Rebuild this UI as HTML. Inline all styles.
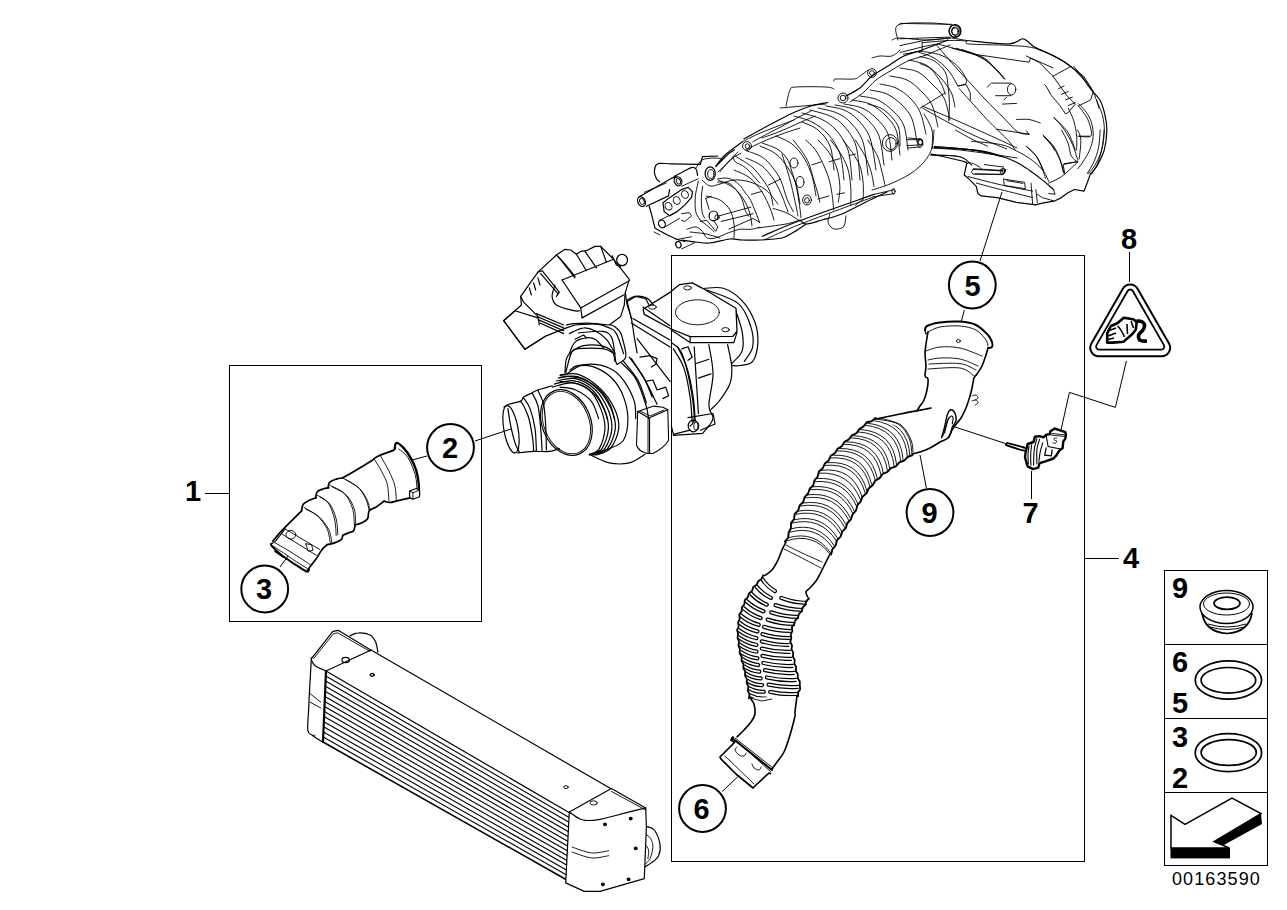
<!DOCTYPE html>
<html><head><meta charset="utf-8">
<style>
html,body{margin:0;padding:0;background:#fff;width:1287px;height:910px;overflow:hidden}
svg{display:block}
text{font-family:"Liberation Sans",sans-serif;font-weight:bold;fill:#000}
.f{fill:none;stroke:#000;stroke-width:1.05;shape-rendering:crispEdges}
.t{fill:none;stroke:#000;stroke-width:1}
.d{fill:none;stroke:#000;stroke-width:1.2;stroke-linejoin:round;stroke-linecap:round}
.w{fill:#fff;stroke:#000;stroke-width:1.3;stroke-linejoin:round}
.h{fill:none;stroke:#000;stroke-width:0.9;stroke-linecap:round}
.c{fill:#fff;stroke:#000;stroke-width:2}
.r{fill:none;stroke:#000;stroke-width:1.7}
</style></head>
<body>
<svg width="1287" height="910" viewBox="0 0 1287 910">
<rect width="1287" height="910" fill="#fff"/>

<!-- PARTS -->
<g id="manifold">
<path class="d" d="M966.7,40.5 C973.8,41.1 1000,44.2 1009.4,43.9 C1018.8,43.6 1018.8,38.2 1023.1,38.8 C1027.4,39.4 1029.9,44.5 1035,47.4 C1040.2,50.2 1048.1,52.9 1053.8,55.9 C1059.5,58.9 1064.7,61.9 1069.2,65.3 C1073.8,68.7 1077.5,72.3 1081.2,76.4 C1084.9,80.5 1088.3,86.1 1091.5,90.1 C1094.6,94.1 1097.7,96.1 1100,100.3 C1102.3,104.6 1104,110.6 1105.1,115.7 C1106.3,120.9 1107,125.4 1106.8,131.1 C1106.7,136.8 1105.7,144.5 1104.3,149.9 C1102.8,155.3 1100.4,159.6 1098.3,163.6 C1096.2,167.6 1092.6,172.1 1091.5,173.8"/>
<path class="h" d="M1078.6,103.8 C1079.9,105.2 1084.2,109.2 1086.3,112.3 C1088.5,115.4 1090.3,118.6 1091.5,122.6 C1092.6,126.6 1093.4,131.7 1093.2,136.2 C1092.9,140.8 1091.5,145.6 1089.7,149.9 C1088,154.2 1084.9,158.7 1082.9,161.9 C1080.9,165 1078.6,167.6 1077.8,168.7"/>
<path class="h" d="M1096.6,100.3 C1097.6,102.9 1101.3,110.6 1102.6,115.7 C1103.8,120.9 1104.4,125.4 1104.3,131.1 C1104.1,136.8 1103.3,144.2 1101.7,149.9 C1100.1,155.6 1097.2,161.3 1094.9,165.3 C1092.6,169.3 1089.2,172.4 1088,173.8"/>
<path class="h" d="M1053.8,117.4 C1055.6,119.4 1061,124.8 1064.1,129.4 C1067.2,134 1070.4,139.7 1072.6,144.8 C1074.9,149.9 1076.9,157.6 1077.8,160.2"/>
<path class="h" d="M1043.6,136.2 C1045.3,138.2 1051,143.9 1053.8,148.2 C1056.7,152.5 1059,157.6 1060.7,161.9 C1062.4,166.2 1063.5,171.9 1064.1,173.8"/>
<path class="h" d="M1026.5,146.5 C1028.2,148.2 1033.9,152.8 1036.8,156.8 C1039.6,160.7 1042.5,168.1 1043.6,170.4"/>
<path class="h" d="M1077.8,136.2 L1089.7,136.2"/>
<path class="h" d="M1064.1,163.6 L1077.8,161.9"/>
<path class="h" d="M934.2,146.5 C940.5,147.1 960.4,148.2 971.8,149.9 C983.2,151.6 997.4,155.6 1002.6,156.8"/>
<path class="h" d="M930.8,155 C935.6,155.3 953,155 959.8,156.8 C966.7,158.5 969.8,163.9 971.8,165.3"/>
<path class="h" d="M922.8,42.6 C927.5,42.2 943.5,40.7 950.8,40.5 C958,40.3 963.1,40.6 966.2,41.2 C969.2,41.8 962,43.3 969,44 C975.9,44.7 997.2,44.7 1008.1,45.4 C1019.1,46.1 1026.1,45.9 1034.7,48.2 C1043.3,50.5 1054,56.3 1059.9,59.4 C1065.7,62.4 1068,65.2 1069.7,66.4"/>
<path class="h" d="M938.2,44 L975.9,54.5 L1029.1,62.2 L1030.5,58 L1052.9,67.8"/>
<path class="h" d="M952.2,48.2 C956.1,49.3 969.7,52.6 975.9,55.2 C982.2,57.7 986.2,60.8 989.9,63.6 C993.7,66.4 996,69.4 998.3,72 C1000.7,74.5 1003,77.8 1003.9,79"/>
<path class="h" d="M956.4,48.2 C960.3,49.6 974.1,53.5 980.1,56.6 C986.2,59.6 989,63.1 992.7,66.4 C996.5,69.6 1000.9,74.5 1002.5,76.2"/>
<path class="h" d="M962,49.6 C965.7,51 978.7,54.7 984.3,58 C989.9,61.2 992,65.7 995.5,69.2 C999,72.7 1003.7,77.3 1005.3,79"/>
<path class="h" d="M920,51 C923.5,51.7 934.9,52.8 941,55.2 C947,57.5 952.4,61.5 956.4,65 C960.3,68.5 963.1,73.1 964.8,76.2 C966.4,79.2 967.1,81.5 966.2,83.1 C965.2,84.8 960.3,85.5 959.2,85.9"/>
<path class="h" d="M920,56.6 C922.3,57.3 929.8,58.2 934,60.8 C938.2,63.3 942.8,67.8 945.2,72 C947.5,76.2 947.3,80.8 948,85.9 C948.7,91.1 949.3,96.9 949.4,102.7 C949.5,108.6 948.8,117.9 948.7,120.9"/>
<path class="h" d="M920,63.6 C921.9,64.5 927.7,65.9 931.2,69.2 C934.7,72.4 938.6,79 941,83.1 C943.3,87.3 944.5,92.5 945.2,94.3"/>
<path class="h" d="M957.8,85.9 L966.2,84.5 L970.3,92.9 L970.3,99.9"/>
<path class="h" d="M920,108.3 L945.2,92.9"/>
<path class="h" d="M922.8,108.3 C927,110.7 939.1,117.6 948,122.3 C956.8,127 966.2,131.9 975.9,136.3 C985.7,140.7 1001.6,146.8 1006.7,148.9"/>
<path class="h" d="M936.8,45.4 C939.6,48.6 948,58.7 953.6,65 C959.2,71.3 965,77.3 970.3,83.1 C975.7,89 980.1,94.1 985.7,99.9 C991.3,105.8 998.6,112.8 1003.9,118.1 C1009.3,123.5 1013.7,129.4 1017.9,132.1 C1022.1,134.8 1027.2,133.8 1029.1,134.2"/>
<path class="h" d="M959.2,88.7 C961.5,91.3 968.5,99 973.1,104.1 C977.8,109.3 982.9,115.1 987.1,119.5 C991.3,123.9 994.6,127 998.3,130.7 C1002.1,134.4 1006.7,138.7 1009.5,141.9 C1012.3,145.1 1014.2,148.6 1015.1,150"/>
<path class="h" d="M987.1,87.3 L991.3,83.1 L1010.9,83.1"/>
<path class="h" d="M995.5,95.7 L1010.9,95.7"/>
<ellipse class="h" cx="1011.6" cy="89.4" rx="4.2" ry="5.6"/>
<path class="h" d="M1002.5,104.1 L1016.5,103.4"/>
<path class="h" d="M1003.9,99.9 L1006.7,97.1"/>
<path class="h" d="M996.9,129.3 L1029.1,134.2 L1026.3,130.7"/>
<path class="h" d="M1016.5,119.5 C1018.6,119.5 1025.1,118.9 1029.1,119.5 C1033.1,120.1 1038.4,122.4 1040.3,123"/>
<path class="h" d="M1026.3,55.9 L1038.9,62.2 L1052.9,76.2 L1059.9,85.9 L1066.9,95.7 L1075.2,104.1 L1068.3,112.5 L1065.5,113.9 L1059.9,105.5 L1051.5,95.7 L1045.9,85.9 L1044.5,84.5"/>
<path class="h" d="M1058.5,88.7 L1064.1,85.9"/>
<path class="h" d="M1061.3,94.3 L1068.3,91.5"/>
<path class="h" d="M1065.5,99.9 L1072.4,97.1"/>
<path class="h" d="M1068.3,105.5 L1075.2,102.7"/>
<path class="h" d="M1052.9,76.2 L1071,66.4 L1083.6,76.2 L1093.4,91.5 L1090.6,99.9 L1079.4,105.5"/>
<path class="h" d="M1078,105.5 C1079.4,107.4 1084.3,113 1086.4,116.7 C1088.5,120.4 1089.9,124.6 1090.6,127.9 C1091.3,131.2 1092.5,134.9 1090.6,136.3 C1088.8,137.7 1081.3,136.3 1079.4,136.3"/>
<path class="h" d="M1073.8,66.4 C1076.2,69.2 1084.3,78.3 1087.8,83.1 C1091.3,88 1093,91.5 1094.8,95.7 C1096.7,99.9 1098.3,106.2 1099,108.3"/>
<path class="h" d="M1054.3,118.1 C1056.4,120.2 1063.8,126.7 1066.9,130.7 C1069.9,134.7 1071,138.7 1072.4,141.9 C1073.8,145.1 1074.8,148.6 1075.2,150"/>
<path class="h" d="M1043.1,134.9 C1044.5,136.5 1049.6,142.2 1051.5,144.7 C1053.3,147.2 1053.8,149.1 1054.3,150"/>
<path class="h" d="M1068.3,108.3 C1069.2,110.4 1072.4,116.2 1073.8,120.9 C1075.2,125.6 1076.2,131.4 1076.6,136.3 C1077.1,141.1 1076.6,147.7 1076.6,150"/>
<ellipse class="h" cx="954.7" cy="31.1" rx="5.5" ry="6"/>
<ellipse class="h" cx="955" cy="31.6" rx="3.1" ry="3.8"/>
<path class="h" d="M900,23.4 L951.3,24.3"/>
<path class="h" d="M900,38.8 L949.6,37.1"/>
<path class="h" d="M900,45.6 L923.9,40.5 L951.3,37.9 L966.7,40.5"/>
<path class="h" d="M900,52.5 L923.9,46.5 L937.6,43.9"/>
<path class="h" d="M922.2,42.2 L922.2,50.8 L903.4,54.2"/>
<path class="h" d="M906.8,139.7 L922.2,139.7 L923.1,144.8 L906.8,145.6"/>
<ellipse class="h" cx="920.5" cy="142.2" rx="2.1" ry="2.7"/>
<path class="h" d="M934.2,146.5 C940.5,147.1 960.4,148.2 971.8,149.9 C983.2,151.6 997.4,155.6 1002.6,156.8"/>
<path class="h" d="M930.8,155 C935.6,155.3 953,155 959.8,156.8 C966.7,158.5 969.8,163.9 971.8,165.3"/>
<path class="h" d="M973.5,168.7 L1002.6,170.4"/>
<path class="h" d="M975.2,173.8 L1002.6,174.7"/>
<ellipse class="h" cx="1002.6" cy="171.3" rx="2.4" ry="2.7"/>
<path class="h" d="M786,106 C786.7,103.3 788.3,93.2 790,90 C791.7,86.8 790,87.5 796,87 C802,86.5 819.7,86.7 826,87 C832.3,87.3 832.7,88.7 834,89"/>
<path class="h" d="M780,108 L826,104"/>
<path class="d" d="M744,139 C746.7,137.5 754.5,133 760,130 C765.5,127 771.2,124 777,121 C782.8,118 789.3,114.5 795,112 C800.7,109.5 805.5,107.6 811,106 C816.5,104.4 825.2,103.1 828,102.5"/>
<path class="h" d="M752.8,141.8 C755.2,140.5 762.1,136.6 767,134 C771.9,131.4 776.9,129.1 781.9,126.4 C786.9,123.7 792.1,120.6 797,118 C801.9,115.4 808.7,112.2 811,111"/>
<path class="h" d="M762,138 C765.2,136.8 774.7,133.6 781,131 C787.3,128.4 794.3,125 800,122.5 C805.7,120 812.5,117.1 815,116"/>
<path class="h" d="M834,81 C834.3,80.7 832.7,79.3 836,79 C839.3,78.7 850,79.5 854,79 C858,78.5 857.7,77.5 860,76 C862.3,74.5 866.7,71 868,70"/>
<path class="d" d="M846,96 C848.3,94.7 855.7,91.3 860,88 C864.3,84.7 867.3,79.7 872,76 C876.7,72.3 882.7,69.3 888,66 C893.3,62.7 898.3,58.7 904,56 C909.7,53.3 914.7,52.7 922,50 C929.3,47.3 943.7,41.7 948,40"/>
<path class="h" d="M850,102 C852.3,100.3 859.7,95.7 864,92 C868.3,88.3 871.3,83.7 876,80 C880.7,76.3 886.7,73.2 892,70 C897.3,66.8 902.3,63.5 908,61 C913.7,58.5 919,57.7 926,55 C933,52.3 946,46.7 950,45"/>
<path class="h" d="M872,58 C873.3,57.7 876.7,56.3 880,56 C883.3,55.7 888.7,57 892,56 C895.3,55 898.7,51 900,50"/>
<path class="h" d="M898,40 C898,37.5 892.7,27.8 898,25 C903.3,22.2 921,23 930,23 C939,23 948.3,24.7 952,25"/>
<path class="h" d="M892,40 C893.3,39.7 894.3,38 900,38 C905.7,38 917.7,40 926,40 C934.3,40 946,38.3 950,38"/>
<ellipse class="h" cx="843" cy="98" rx="5" ry="5"/>
<ellipse class="h" cx="843" cy="98" rx="2.8" ry="2.8"/>
<ellipse class="h" cx="872" cy="73" rx="4.4" ry="4.4"/>
<ellipse class="h" cx="872" cy="73" rx="2.4" ry="2.4"/>
<ellipse class="d" cx="955" cy="31" rx="6" ry="6.4"/>
<ellipse class="h" cx="955" cy="31" rx="3.6" ry="4"/>
<path class="h" d="M794,116 C797,117 806.3,119 812,122 C817.7,125 823.3,128.7 828,134 C832.7,139.3 837.3,146.3 840,154 C842.7,161.7 843.3,175.7 844,180"/>
<path class="h" d="M810,110 C813.3,111 824.3,113.3 830,116 C835.7,118.7 839.7,121 844,126 C848.3,131 853.3,137 856,146 C858.7,155 859.3,174.3 860,180"/>
<path class="h" d="M826,106 C829,106.7 838.7,107.7 844,110 C849.3,112.3 853.7,115.3 858,120 C862.3,124.7 867,129.7 870,138 C873,146.3 875,164.7 876,170"/>
<path class="h" d="M844,104 C847,104.7 856.7,105.7 862,108 C867.3,110.3 871.7,113.7 876,118 C880.3,122.3 885.3,127 888,134 C890.7,141 891.3,155.7 892,160"/>
<path class="h" d="M860,96 C863,96.7 872.3,97.3 878,100 C883.7,102.7 889.7,107.7 894,112 C898.3,116.3 901.7,119.7 904,126 C906.3,132.3 907.3,146 908,150"/>
<path class="h" d="M880,84 C882.7,84.7 891,85.7 896,88 C901,90.3 906,94 910,98 C914,102 917.3,106 920,112 C922.7,118 925,130.3 926,134"/>
<path class="h" d="M900,68 C903,68.7 912.7,69.3 918,72 C923.3,74.7 927.7,79.7 932,84 C936.3,88.3 941,92 944,98 C947,104 949,116.3 950,120"/>
<path class="h" d="M918,52 C920.7,53 929,55 934,58 C939,61 944,65.3 948,70 C952,74.7 956.3,83.3 958,86"/>
<path class="h" d="M802,122 C804.7,123.3 813.3,126 818,130 C822.7,134 827.3,139.3 830,146 C832.7,152.7 833.3,166 834,170"/>
<path class="h" d="M868,104 C870.7,105 879,106.3 884,110 C889,113.7 895.3,120 898,126 C900.7,132 899.7,142.7 900,146"/>
<path class="h" d="M802,113 C805.2,114 815.3,116.2 821,119 C826.7,121.8 831.5,124.8 836,130 C840.5,135.2 845.3,141.7 848,150 C850.7,158.3 851.3,175 852,180"/>
<path class="h" d="M818,108 C821.2,108.8 831.5,110.5 837,113 C842.5,115.5 846.7,118.2 851,123 C855.3,127.8 860.2,133.3 863,142 C865.8,150.7 867.2,169.5 868,175"/>
<path class="h" d="M835,105 C838,105.7 847.7,106.7 853,109 C858.3,111.3 862.7,114.5 867,119 C871.3,123.5 876.2,128.3 879,136 C881.8,143.7 883.2,160.2 884,165"/>
<path class="h" d="M852,100 C855,100.7 864.5,101.5 870,104 C875.5,106.5 880.7,110.7 885,115 C889.3,119.3 893.5,123.3 896,130 C898.5,136.7 899.3,150.8 900,155"/>
<path class="h" d="M870,90 C872.8,90.7 881.7,91.5 887,94 C892.3,96.5 897.8,100.8 902,105 C906.2,109.2 909.5,112.8 912,119 C914.5,125.2 916.2,138.2 917,142"/>
<path class="h" d="M890,76 C892.8,76.7 901.8,77.5 907,80 C912.2,82.5 916.8,86.8 921,91 C925.2,95.2 929.2,99 932,105 C934.8,111 937,123.3 938,127"/>
<path class="h" d="M909,60 C911.8,60.8 920.8,62.2 926,65 C931.2,67.8 935.8,72.5 940,77 C944.2,81.5 948.5,87 951,92 C953.5,97 954.3,104.5 955,107"/>
<ellipse class="h" cx="747" cy="146" rx="4.4" ry="4.4"/>
<ellipse class="h" cx="747.4" cy="146.2" rx="2.2" ry="2.4"/>
<ellipse class="h" cx="890" cy="143" rx="7.6" ry="8.4"/>
<ellipse class="h" cx="891" cy="143.6" rx="5.2" ry="6"/>
<path class="h" d="M908,138 L920,139"/>
<path class="h" d="M908,148 L920,147"/>
<ellipse class="h" cx="920" cy="143" rx="2.4" ry="4.4"/>
<path class="h" d="M872,190 C875,189 883.7,186.7 890,184 C896.3,181.3 904.3,177.7 910,174 C915.7,170.3 920.3,166.3 924,162 C927.7,157.7 930.3,153.3 932,148 C933.7,142.7 933.7,133 934,130"/>
<path class="h" d="M924,114 C925.3,116.7 930.7,124.3 932,130 C933.3,135.7 932,145 932,148"/>
<path class="h" d="M922,106 C928.3,108.7 947,116.3 960,122 C973,127.7 990.5,135.7 1000,140 C1009.5,144.3 1014.2,146.7 1017,148"/>
<path class="h" d="M932,148 C936.7,148.3 950.3,149 960,150 C969.7,151 980.5,152.7 990,154 C999.5,155.3 1012.5,157.3 1017,158"/>
<ellipse class="d" cx="641.5" cy="201.6" rx="3.7" ry="5.1" transform="rotate(-25 641.5 201.6)"/>
<ellipse class="h" cx="641.9" cy="201.4" rx="2.2" ry="3.1" transform="rotate(-25 641.9 201.4)"/>
<path class="d" d="M639.3,196.7 L671.2,178.4 L676.2,176.6"/>
<path class="d" d="M646.5,206.3 L668.5,195.9 L669.6,189.6"/>
<path class="h" d="M644.3,192.3 L666.3,183"/>
<ellipse class="d" cx="678" cy="181.3" rx="3.7" ry="4.6" transform="rotate(-25 678 181.3)"/>
<ellipse class="h" cx="678.4" cy="181.3" rx="2" ry="2.9" transform="rotate(-25 678.4 181.3)"/>
<path class="d" d="M674,176.4 C675.4,175.6 679.8,173.4 682.7,172 C685.7,170.5 689.3,168.1 691.5,167.6 C693.7,167.1 694.9,167.6 695.9,168.9 C696.9,170.2 697.3,174.2 697.6,175.3"/>
<path class="h" d="M681.6,186.3 L698.1,178.8"/>
<path class="d" d="M659.7,181.9 C659.1,181.3 657.3,180.2 656.4,178.6 C655.5,176.9 654.5,174.2 654.4,172 C654.3,169.8 654.9,166.8 655.8,165.4 C656.7,164 657,163.7 659.7,163.4 C662.3,163.2 665,163.7 671.8,163.8 C678.5,164 695.6,164.2 700.3,164.3"/>
<path class="d" d="M700.3,164.3 L702.5,156.6 L717.9,156"/>
<ellipse class="d" cx="710.2" cy="173.6" rx="5.1" ry="6.8"/>
<ellipse class="h" cx="710.8" cy="174" rx="3.1" ry="4.4"/>
<path class="d" d="M663,202.7 L668.5,198.4 L681.6,189.6 L688.2,187.4 L692.6,191.8 L691.5,197.3 L684.9,204.9 L677.3,211.5 L669.6,215.9 L664.1,211.5 L663,202.7"/>
<ellipse class="h" cx="684.9" cy="194.5" rx="3.3" ry="4" transform="rotate(-30 684.9 194.5)"/>
<ellipse class="h" cx="676.7" cy="200.5" rx="3.3" ry="4" transform="rotate(-30 676.7 200.5)"/>
<ellipse class="h" cx="668.5" cy="206.3" rx="3.3" ry="4" transform="rotate(-30 668.5 206.3)"/>
<ellipse class="d" cx="661.9" cy="223.8" rx="3.3" ry="4" transform="rotate(-25 661.9 223.8)"/>
<path class="h" d="M659.7,220.3 L677.3,211.5"/>
<path class="h" d="M664.1,227.5 L679.5,218.4"/>
<path class="d" d="M649.2,206.3 C649.7,207.9 651.1,212.7 652,215.9 C652.8,219.2 653.6,223.6 654.4,225.8 C655.2,228.1 653.3,227.1 656.9,229.3 C660.5,231.5 671.5,237 676.2,239 C680.8,241 683.5,241 684.9,241.4"/>
<ellipse class="d" cx="678.4" cy="244.7" rx="2.6" ry="3.3" transform="rotate(-20 678.4 244.7)"/>
<path class="h" d="M676.2,239.6 L691.5,236.8"/>
<path class="h" d="M681.6,248.9 L694.3,242.9"/>
<path class="h" d="M698.4,181 C697.9,183.5 695.8,191.1 695.4,196.2 C694.9,201.2 694.9,207.5 695.7,211.5 C696.5,215.6 699.6,218.9 700.3,220.3"/>
<path class="h" d="M702.7,186.3 C702.5,188.1 701.6,193 701.4,197.3 C701.3,201.5 701.4,208.1 702,211.5 C702.5,215 704.3,217 704.7,218.1"/>
<path class="d" d="M715.7,166.5 L728.9,153.3 L734.4,150"/>
<path class="h" d="M717.9,172 L734.4,156.6 L741,153.3"/>
<path class="h" d="M717.9,178.8 C719.7,178.7 725.4,177.4 728.9,178.4 C732.4,179.3 736,181.8 738.8,184.3 C741.5,186.7 743.4,190.3 745.4,193.1 C747.4,195.8 748.5,195.9 750.9,200.8 C753.3,205.7 758.2,218.9 759.7,222.5"/>
<path class="h" d="M717.9,182.1 C719.7,182.3 725.6,181.5 728.9,183.2 C732.2,184.8 735.5,189.2 737.7,192 C739.9,194.7 740.8,196.6 742.1,199.7 C743.4,202.8 744.3,207.9 745.4,210.7 C746.5,213.4 748.1,215.2 748.7,216.2"/>
<path class="h" d="M733.3,156.6 C733.7,157.5 733.5,160.3 735.5,162.1 C737.5,163.9 741.4,164.1 745.4,167.6 C749.4,171.1 757.3,180.4 759.7,183"/>
<path class="h" d="M719,215.9 L750.9,207.1"/>
<path class="h" d="M721.2,221.4 L753.1,213.7"/>
<path class="h" d="M728.9,229.1 L753.1,218.4 L759.7,222.5"/>
<ellipse class="d" cx="713.5" cy="215.9" rx="4.4" ry="4.9"/>
<ellipse class="h" cx="717" cy="217.3" rx="2.2" ry="2.4"/>
<path class="h" d="M700.3,221.4 L706.9,220.3 L711.3,225.8 L715.7,231.3 L717.9,226.9 L713.5,220.3"/>
<path class="h" d="M687.1,229.3 C688.6,228.9 693.4,226.6 695.9,226.9 C698.5,227.3 700.7,229.7 702.5,231.5 C704.4,233.4 704.7,236.8 706.9,237.9 C709.1,239 712.1,238.8 715.7,237.9 C719.4,237 724.9,234.1 728.9,232.6 C732.9,231.2 736.2,229.9 739.9,229.3 C743.6,228.8 747.5,229.7 750.9,229.3 C754.2,229 758.5,227.5 760,227.1"/>
<path class="h" d="M681.6,213.7 L689.3,212.6 L691.5,215.9 L684.9,221.4 L681.6,220.3"/>
<path class="h" d="M705.8,198.4 L711.3,196.2"/>
<path class="h" d="M705.8,198.4 L709.1,209.3"/>
<path class="d" d="M682,240 C684.3,240.3 691.3,241.5 696,242 C700.7,242.5 704.3,243.5 710,243 C715.7,242.5 724.7,239.5 730,239 C735.3,238.5 737,239.8 742,240 C747,240.2 753.3,240.3 760,240 C766.7,239.7 776.3,239.3 782,238 C787.7,236.7 790,234.3 794,232 C798,229.7 804,225.3 806,224"/>
<path class="h" d="M690,232 C692.7,232.3 701,233 706,234 C711,235 717.7,237.3 720,238"/>
<path class="h" d="M702,180 C703.3,181 707,185.3 710,186 C713,186.7 716,185 720,184 C724,183 729,180.3 734,180 C739,179.7 744.7,180.3 750,182 C755.3,183.7 761.3,186.3 766,190 C770.7,193.7 776,201.7 778,204"/>
<path class="h" d="M718,180 C720.7,181.3 729.7,184.7 734,188 C738.3,191.3 741.3,195.7 744,200 C746.7,204.3 748.7,209.7 750,214 C751.3,218.3 751.7,224 752,226"/>
<path class="h" d="M734,170 C736.7,171.3 745.3,174.3 750,178 C754.7,181.7 758.7,187 762,192 C765.3,197 768,203.3 770,208 C772,212.7 773.3,218 774,220"/>
<path class="h" d="M746,158 C748.7,159.3 757.3,162.3 762,166 C766.7,169.7 770.7,175 774,180 C777.3,185 779.7,190.7 782,196 C784.3,201.3 787,209.3 788,212"/>
<path class="h" d="M760,146 C762.7,147.3 771.3,150.3 776,154 C780.7,157.7 784.7,163 788,168 C791.3,173 794,178 796,184 C798,190 799.3,200.7 800,204"/>
<path class="h" d="M776,136 C778.7,137.3 787.3,140.3 792,144 C796.7,147.7 800.7,152.7 804,158 C807.3,163.3 810,169.7 812,176 C814,182.3 815.3,192.7 816,196"/>
<path class="h" d="M706,196 C708.3,196.7 716,197.7 720,200 C724,202.3 727.7,206 730,210 C732.3,214 733.3,219.3 734,224 C734.7,228.7 734,235.7 734,238"/>
<ellipse class="h" cx="794" cy="163" rx="4" ry="5"/>
<ellipse class="h" cx="800" cy="182" rx="4" ry="5.6"/>
<ellipse class="h" cx="807" cy="200" rx="4.4" ry="5"/>
<ellipse class="h" cx="807" cy="200.4" rx="2.4" ry="2.8"/>
<path class="h" d="M782,154 C783.3,158.3 787.7,171.3 790,180 C792.3,188.7 794.7,200 796,206 C797.3,212 797.7,214.3 798,216"/>
<path class="h" d="M700,220 C701.7,221.3 707.7,226 710,228 C712.3,230 713.3,231.3 714,232"/>
<path class="h" d="M758,228 C762.7,227.3 779,225.3 786,224 C793,222.7 797.7,220.7 800,220"/>
<path class="d" d="M800,220 C801,220.7 802.3,224 806,224 C809.7,224 816,221.7 822,220 C828,218.3 834.7,217 842,214 C849.3,211 858.5,205.7 866,202 C873.5,198.3 883.5,193.7 887,192"/>
<path class="h" d="M830,214 C829.7,215.3 827.7,219.7 828,222 C828.3,224.3 830.3,226.8 832,228 C833.7,229.2 836,229.3 838,229 C840,228.7 842.7,228.2 844,226 C845.3,223.8 845.7,217.7 846,216"/>
<path class="d" d="M716,166 C717.3,164.3 721,159 724,156 C727,153 731,150.3 734,148 C737,145.7 740.7,143 742,142"/>
<path class="h" d="M720,172 C721.3,170.3 725,165.3 728,162 C731,158.7 736.3,153.7 738,152"/>
<path class="h" d="M742,142 C744.7,140.7 752,136.7 758,134 C764,131.3 772,128.3 778,126 C784,123.7 791.3,121 794,120"/>
<path class="h" d="M746,150 C748.7,148.7 756,144.7 762,142 C768,139.3 775.7,136.3 782,134 C788.3,131.7 797,129 800,128"/>
<path class="h" d="M696,168 C697,166.7 699,161.7 702,160 C705,158.3 710.7,158.2 714,158 C717.3,157.8 720.7,158.8 722,159"/>
<path class="h" d="M654,232 L660,235"/>
<path class="d" d="M934.5,147.7 C938.8,147.9 952.4,148.4 960.2,149 C968,149.5 974.4,149.8 981.1,150.9 C987.8,152 994.5,153.9 1000.4,155.7 C1006.3,157.6 1011.7,159.8 1016.5,162.2 C1021.3,164.6 1025.1,167.3 1029.4,170.2 C1033.7,173.2 1038.2,176.6 1042.2,179.9 C1046.3,183.1 1051.6,187.9 1053.5,189.5"/>
<path class="d" d="M931.3,154.1 C936.6,155.3 957.5,159.8 963.4,161.4 C969.3,163 966.1,163.4 966.6,163.8"/>
<path class="h" d="M971.5,141.3 C976.3,141.8 992.9,142.9 1000.4,144.5 C1007.9,146.1 1011.1,148.2 1016.5,150.9 C1021.9,153.6 1028,157.1 1032.6,160.6 C1037.2,164 1041.2,168.3 1043.9,171.8 C1046.5,175.3 1047.9,179.9 1048.7,181.5"/>
<path class="h" d="M955.4,130 C958.3,131.6 967.7,137 973.1,139.7 C978.4,142.3 985.1,145 987.6,146.1"/>
<path class="d" d="M966.6,163.8 L964.2,175 L968.3,178.3 L976.3,186.3 L977.9,193.5 L981.1,195.9 L997.2,197.6 L1016.5,202.4 L1035.8,204.8 L1042.2,203.2 L1055.1,200.8 L1061.5,197.6 L1068,192.7 L1074.4,189.5 L1084.1,191.1 L1088.9,178.3 L1090.5,173.4"/>
<path class="h" d="M966.6,163.8 C967.5,163.6 969.3,162.4 971.5,163 C973.6,163.5 977.9,165.9 979.5,167 C981.1,168.1 980.9,169 981.1,169.4"/>
<path class="h" d="M973.1,169.4 L1003.6,171 L1006.1,169.4 L1003.6,174.2 L973.1,174.2 L971.5,171.8 L973.1,169.4"/>
<path class="h" d="M984.3,164.6 L1003.6,167"/>
<path class="h" d="M1003.6,179.1 L1024.6,182.3 L1025.4,188.7 L1004.4,185.5 L1003.6,179.1"/>
<path class="h" d="M1006.9,180.7 L1022.9,183.4"/>
<path class="h" d="M968.3,176.6 C973.6,178 989.7,182.3 1000.4,184.7 C1011.1,187.1 1027.2,190.1 1032.6,191.1"/>
<path class="h" d="M976.3,183.1 C980.3,184.2 991,187.1 1000.4,189.5 C1009.8,191.9 1027.2,196.2 1032.6,197.6"/>
<path class="h" d="M1031,183.1 L1032.6,204"/>
<path class="h" d="M1035.8,189.5 L1037.4,202.4"/>
<path class="h" d="M1053.5,189.5 L1055.1,194.3 L1048.7,193.5"/>
<path class="h" d="M1048.7,183.1 C1050.8,182 1056.7,180.1 1061.5,176.6 C1066.4,173.2 1075,164.6 1077.6,162.2"/>
<path class="h" d="M1090.5,173.4 C1091.6,172.1 1095.1,169.4 1096.9,165.4 C1098.8,161.4 1100.6,155.2 1101.8,149.3 C1103,143.4 1103.8,133.2 1104.2,130"/>
<path class="h" d="M1087.3,173.4 C1088.4,171.6 1091.8,166.5 1093.7,162.2 C1095.6,157.9 1097.5,153.1 1098.5,147.7 C1099.6,142.3 1099.9,132.9 1100.2,130"/>
<path class="h" d="M1026.2,146.1 C1027.8,147.7 1033.1,152 1035.8,155.7 C1038.5,159.5 1040.6,164.9 1042.2,168.6 C1043.9,172.4 1044.9,176.6 1045.5,178.3"/>
<path class="h" d="M1043.9,136.4 C1045.5,138 1050.8,142.3 1053.5,146.1 C1056.2,149.8 1058.3,154.7 1059.9,159 C1061.5,163.2 1062.6,169.7 1063.2,171.8"/>
<path class="h" d="M1061.5,130 C1062.6,132.1 1066.4,138.6 1068,142.9 C1069.6,147.2 1069.6,152.5 1071.2,155.7 C1072.8,159 1076.6,161.1 1077.6,162.2"/>
<path class="h" d="M1077.6,130 C1078.2,131.6 1080.6,134.8 1080.8,139.7 C1081.1,144.5 1079.5,155.7 1079.2,159"/>
<path class="h" d="M1063.2,164.6 L1077.6,161.4"/>
<path class="h" d="M1064.8,173.4 L1063.2,165.4"/>
<ellipse class="h" cx="1003.6" cy="170.5" rx="1.6" ry="2.3"/>
<path class="h" d="M1037.4,194.3 L1042.2,197.6 L1053.5,200.8"/>
<path class="h" d="M734.2,155.5 C737,157.4 746.6,162.5 751.3,166.4 C755.9,170.3 759.1,174.7 762.2,178.9 C765.3,183 768.1,186.9 769.9,191.3 C771.7,195.7 772.5,202.9 773,205.3"/>
<path class="h" d="M746.6,150.9 C749.2,151.9 757.8,154.2 762.2,157.1 C766.6,159.9 769.9,164.1 773,168 C776.1,171.9 778.5,175.2 780.8,180.4 C783.1,185.6 785,193.9 787,199.1 C789.1,204.2 792.2,209.4 793.2,211.5"/>
<path class="h" d="M762.2,143.1 C764.8,144.1 773.6,146.7 777.7,149.3 C781.8,151.9 784.7,155 787,158.6 C789.4,162.3 790.1,166.4 791.7,171.1 C793.2,175.7 795.1,180.9 796.3,186.6 C797.6,192.3 798.7,200.1 799.5,205.3 C800.2,210.4 800.8,215.6 801,217.7"/>
<path class="h" d="M793.2,140 C794.8,142.1 800,148.5 802.6,152.4 C805.2,156.3 807,158.9 808.8,163.3 C810.6,167.7 811.9,173.7 813.4,178.9 C815,184 817.1,190.5 818.1,194.4 C819.1,198.3 819.4,200.9 819.7,202.2"/>
<path class="h" d="M805.7,140 C807.2,141.6 812.1,145.4 815,149.3 C817.8,153.2 820.4,158.4 822.8,163.3 C825.1,168.2 827.4,173.7 829,178.9 C830.5,184 831.3,189.2 832.1,194.4 C832.9,199.6 833.4,207.3 833.6,209.9"/>
<path class="h" d="M818.1,140 C819.9,142.1 825.9,147.8 829,152.4 C832.1,157.1 834.9,162.3 836.8,168 C838.6,173.7 839.6,180.9 839.9,186.6 C840.1,192.3 838.6,199.6 838.3,202.2"/>
<path class="h" d="M830.5,140 C832.1,142.1 837,147.8 839.9,152.4 C842.7,157.1 845.8,162.3 847.6,168 C849.4,173.7 850.2,180.4 850.7,186.6 C851.3,192.8 850.7,202.2 850.7,205.3"/>
<path class="h" d="M843,140 C844.5,142.1 849.4,148 852.3,152.4 C855.1,156.8 858.2,161.2 860.1,166.4 C861.9,171.6 862.7,178.1 863.2,183.5 C863.7,189 863.2,196.5 863.2,199.1"/>
<path class="h" d="M855.4,140 C857,142.6 862.1,150.4 864.7,155.5 C867.3,160.7 869.4,165.9 870.9,171.1 C872.5,176.3 873.5,184 874,186.6"/>
<path class="h" d="M867.8,140 C869.4,142.6 874.8,150.4 877.2,155.5 C879.5,160.7 880.5,166.2 881.8,171.1 C883.1,176 884.4,182.7 884.9,185.1"/>
<path class="h" d="M768.4,185.1 L780.8,178.9"/>
<path class="h" d="M751.3,194.4 L762.2,191.3"/>
<path class="h" d="M811.9,164.9 L821.2,161.8"/>
<path class="h" d="M829,161.8 L839.9,158.6"/>
<path class="h" d="M836.8,194.4 L844.5,192.8"/>
<path class="h" d="M849.2,155.5 L855.4,154"/>
<path class="h" d="M855.4,205.3 L863.2,199.1"/>
<path class="h" d="M818.1,199.1 L829,195.9"/>
<path class="d" d="M762.2,236.3 C768.4,233.8 780.8,227.8 799.5,220.8 C818.1,213.8 861.6,198.8 874,194.4"/>
<path class="h" d="M765.3,239.5 C771.2,236.9 782.9,231 801,223.9 C819.1,216.8 861.9,201.3 874,196.7"/>
<path class="h" d="M874,194.4 L894.3,189.7"/>
<path class="h" d="M874,196.7 L894.3,193.6"/>
<ellipse class="h" cx="893.5" cy="191.3" rx="1.6" ry="2.8"/>
<path class="h" d="M773,208.4 C775.4,209.2 782.6,211 787,213 C791.4,215.1 797.4,219.5 799.5,220.8"/>
</g>
<g id="turbo">
<path class="d" d="M704.7,288.3 C707.8,288.3 717.2,286.3 723.5,288.3 C729.7,290.4 737,295.3 742.2,300.9 C747.4,306.4 752.1,314.8 754.8,321.7 C757.4,328.7 758.2,336 757.9,342.6 C757.5,349.2 755.6,357.5 752.7,361.4 C749.7,365.2 743.6,364.8 740.1,365.5 C736.7,366.2 733.2,365.5 731.8,365.5"/>
<path class="d" d="M706.8,290 C712,292.2 730.8,297.4 738.1,303.4 C745.4,309.3 748.1,318.7 750.6,325.9 C753,333.1 753.7,340.9 752.7,346.8 C751.6,352.7 745.7,358.9 744.3,361.4"/>
<path class="d" d="M736,311.3 C737,314.8 741.2,325.6 742.2,332.2 C743.3,338.8 744,345.7 742.2,350.9 C740.5,356.2 733.5,361.4 731.8,363.5"/>
<path class="d" d="M708.9,344.7 C709.5,349.5 713,363.8 713,373.9 C713,384 708.9,397.9 708.9,405.2 C708.9,412.5 713,414.2 713,417.7 C713,421.2 709.5,424.7 708.9,426"/>
<path class="d" d="M727.6,344.7 C728.3,348.5 731.5,361 731.8,367.6 C732.1,374.2 731.8,378.8 729.7,384.3 C727.6,389.9 722.4,396.8 719.3,401 C716.2,405.2 712.3,408 710.9,409.4"/>
<path class="d" d="M671.3,342.6 C673,344.3 678.6,346.1 681.7,353 C684.9,360 688,373.5 690.1,384.3 C692.2,395.1 694.2,410.7 694.2,417.7 C694.2,424.7 690.8,424.7 690.1,426"/>
<path class="d" d="M673.4,348.9 C675.1,352 681,359.6 683.8,367.6 C686.6,375.6 688.7,387.8 690.1,396.8 C691.5,405.9 691.8,417.7 692.2,421.9"/>
<path class="d" d="M677.6,346.8 C679.1,350.2 684.3,359.3 686.9,367.6 C689.6,376 691.8,387.8 693.2,396.8 C694.6,405.9 694.9,417.7 695.3,421.9"/>
<path class="d" d="M694.2,346.8 L696.3,380.1 L698.4,413.5"/>
<path class="d" d="M696.3,363.5 L708.9,359.3"/>
<path class="d" d="M698.4,378.1 L710.9,373.9"/>
<path class="d" d="M688,417.7 L713,413.5 L715.1,424 L700.5,430.2"/>
<path class="d" d="M671.3,426 L673.4,434.4 L690.1,430.2"/>
<path class="d" d="M708.9,426 L702.6,433.3 L673.4,435.4"/>
<path class="w" d="M643.1,309.2 L669.2,292.9 L679.6,284.6 L692.2,282.9 L702.6,288.3 L736,308.2 L737,331.1 L732.8,336.3 L690.1,336.7 L671.3,329 L644.2,314.4 Z"/>
<path class="d" d="M671.3,330.1 L690.1,342.6 L733.9,342.6 L737,332.2"/>
<path class="d" d="M690.1,336.7 L690.1,342.6"/>
<ellipse class="h" cx="697.4" cy="312.3" rx="21.9" ry="12.5"/>
<ellipse class="h" cx="652.5" cy="307.1" rx="3.8" ry="2.1"/>
<ellipse class="h" cx="687.6" cy="287.9" rx="3.8" ry="2.1"/>
<ellipse class="h" cx="725.5" cy="329.7" rx="3.8" ry="2.1"/>
<ellipse class="d" cx="693.2" cy="426" rx="5" ry="5.8"/>
<ellipse class="h" cx="696.3" cy="426" rx="2.5" ry="4.2"/>
<path class="d" d="M681.7,348.9 L688,346.8 L692.2,357.2 L688,360.3"/>
<path class="w" d="M565,372.9 C566.9,368.8 565.2,362.1 566.4,358.6 C567.6,355 569.3,353.6 572.1,351.4 C575,349.3 578.8,346.7 583.6,345.7 C588.3,344.8 596,344.8 600.7,345.7 C605.5,346.7 609.8,348.8 612.1,351.4 C614.5,354 613.1,359.8 615,361.4 C616.9,363.1 619.8,358.3 623.6,361.4 C627.4,364.5 634,373.1 637.9,380 C641.7,386.9 644.3,396.2 646.4,402.9 C648.6,409.5 650.2,413.8 650.7,420 C651.2,426.2 650.2,434.3 649.3,440 C648.3,445.7 648.3,450.5 645,454.3 C641.7,458.1 635.2,461.4 629.3,462.9 C623.3,464.3 616,464.3 609.3,462.9 C602.6,461.4 595,455.4 589.3,454.3 C583.6,453.2 580,457.4 575,456.4 C570,455.5 563.6,449.4 559.3,448.6 C555,447.7 553.6,451 549.3,451.4 C545,451.9 538.8,451.2 533.6,451.4 C528.3,451.7 522.9,460.1 517.9,452.9 C512.9,445.6 503.1,416.5 503.6,407.9 C504,399.2 516,403.2 520.7,400.7 C525.5,398.2 526.9,395.4 532.1,392.9 C537.4,390.4 548.3,387.4 552.1,385.7 C556,384 552.9,385 555,382.9 C557.1,380.7 563.1,376.9 565,372.9 Z" style="stroke:none"/>
<path class="d" d="M566.4,374.3 C568.8,372.9 575.5,366.7 580.7,365.7 C586,364.8 592.4,366.2 597.9,368.6 C603.3,371 609.3,375.2 613.6,380 C617.9,384.8 621.2,390.7 623.6,397.1 C626,403.6 627.9,411.4 627.9,418.6 C627.9,425.7 626.7,435 623.6,440 C620.5,445 615,446.2 609.3,448.6 C603.6,451 592.6,453.3 589.3,454.3"/>
<path class="d" d="M565,372.9 C565.2,370.5 565.2,362.1 566.4,358.6 C567.6,355 569.3,353.6 572.1,351.4 C575,349.3 578.8,346.7 583.6,345.7 C588.3,344.8 596,344.8 600.7,345.7 C605.5,346.7 609.8,348.8 612.1,351.4 C614.5,354 614.5,359.8 615,361.4"/>
<path class="d" d="M589.3,454.3 C592.6,455.7 602.6,461.4 609.3,462.9 C616,464.3 623.3,464.3 629.3,462.9 C635.2,461.4 642.4,455.7 645,454.3"/>
<path class="d" d="M623.6,361.4 C626,364.5 634,373.1 637.9,380 C641.7,386.9 645,399 646.4,402.9"/>
<path class="d" d="M629.3,357.1 C631.7,360.5 639.8,370.5 643.6,377.1 C647.4,383.8 650.7,393.8 652.1,397.1"/>
<path class="d" d="M552.1,387.1 C555.5,386.4 566,382.4 572.1,382.9 C578.3,383.3 584.5,385.7 589.3,390 C594,394.3 598.1,402.1 600.7,408.6 C603.3,415 605.2,421.9 605,428.6 C604.8,435.2 601.9,444.2 599.3,448.6 C596.7,453 591,453.9 589.3,455"/>
<path class="d" d="M554.2,384.1 C557.5,383.5 567.6,379.9 573.9,380.8 C580.2,381.7 587,385 592,389.7 C597.1,394.3 601.4,402.1 604.1,408.6 C606.9,415.1 608.8,421.9 608.4,428.6 C608.1,435.2 604.9,444.2 602,448.6 C599.1,453 592.8,453.9 591,455"/>
<path class="d" d="M556.3,381 C559.5,380.6 569.2,377.4 575.6,378.7 C582,380.1 589.4,384.3 594.8,389.3 C600.1,394.3 604.7,402 607.6,408.6 C610.4,415.1 612.3,421.9 611.9,428.6 C611.4,435.2 608,444.2 604.8,448.6 C601.6,453 594.7,453.9 592.7,455"/>
<path class="d" d="M558.3,377.9 C561.5,377.7 570.8,374.8 577.3,376.7 C583.8,378.5 591.9,383.7 597.5,389 C603.1,394.3 608,402 611,408.6 C614,415.2 615.9,421.9 615.3,428.6 C614.7,435.2 611,444.2 607.5,448.6 C604,453 596.6,453.9 594.4,455"/>
<path class="d" d="M560.4,374.8 C563.5,374.8 572.4,372.3 579,374.6 C585.6,376.9 594.4,383 600.3,388.6 C606.2,394.3 611.4,401.9 614.4,408.6 C617.5,415.2 619.4,421.9 618.7,428.6 C618,435.2 614,444.2 610.3,448.6 C606.5,453 598.5,453.9 596.1,455"/>
<ellipse class="d" cx="566.4" cy="422.6" rx="24.3" ry="34" transform="rotate(-22 566.4 422.6)"/>
<ellipse class="h" cx="566.4" cy="422.6" rx="22.6" ry="32.3" transform="rotate(-22 566.4 422.6)"/>
<path class="d" d="M503.9,406.9 C504.8,406.4 506.5,405 509.3,404 C512.1,403 518.3,402.3 520.7,401.1 C523.1,400 521.7,398.5 523.6,397.1 C525.5,395.8 529.8,394 532.1,392.9 C534.5,391.7 534.5,391.2 537.9,390 C541.2,388.8 549.8,386.4 552.1,385.7"/>
<path class="d" d="M517.9,452.9 C520.5,452.6 528.3,451.7 533.6,451.4 C538.8,451.2 545,451.9 549.3,451.4 C553.6,451 557.6,449 559.3,448.6"/>
<ellipse class="d" cx="511" cy="429.3" rx="7.1" ry="24" transform="rotate(-10 511 429.3)"/>
<path class="d" d="M507.9,408.6 C508.3,411.4 509.5,420 510.7,425.7 C511.9,431.4 513.6,438.5 515,442.9 C516.4,447.3 518.6,450.6 519.3,452.1"/>
<path class="d" d="M520.7,401.4 C521.3,402.4 522.9,404 524.3,407.1 C525.7,410.2 527.9,414.5 529.3,420 C530.7,425.5 532.1,434.8 532.9,440 C533.6,445.2 533.5,449.5 533.6,451.4"/>
<path class="d" d="M523.6,397.9 C524.6,399.6 528.1,403.5 530,408.6 C531.9,413.7 533.9,421.4 535,428.6 C536.1,435.7 536.2,447.6 536.4,451.4"/>
<path class="d" d="M532.1,393.1 C533.1,395.2 536.4,399.8 537.9,405.7 C539.3,411.6 540,421 540.7,428.6 C541.4,436.2 541.9,447.6 542.1,451.4"/>
<path class="d" d="M537.9,390.3 C538.8,392.6 542.3,398.4 543.6,404.3 C544.9,410.2 545.2,418.1 545.7,425.7 C546.2,433.3 546.3,446 546.4,450"/>
<path class="w" d="M637.7,411.4 L653.8,406.1 L662.9,407.3 L667.8,409.8 L668.6,440.3 Q664,448 653,453.5 L647.2,453.5 Q638,451 636.5,445 Z" style="stroke-width:1.1"/>
<path class="d" d="M637.7,411.4 L648.9,418 L667.8,409.8 M649.5,418 L649.5,453.5" style="stroke-width:1.2"/>
<path class="h" d="M648,418 L648,453 M640,411 L650,416 L664,410"/>
<path class="d" d="M581.4,307.1 L621.4,290"/>
<path class="d" d="M581.4,320 L622.9,295.7"/>
<path class="d" d="M625,290 C625.4,292.4 626.1,299.5 627.1,304.3 C628.2,309 630.2,313.1 631.4,318.6 C632.6,324 633.3,331.4 634.3,337.1 C635.2,342.9 636.7,350.2 637.1,352.9"/>
<path class="d" d="M560,325.7 C561.4,325.5 561,324.6 568.6,324.3 C576.2,324 597.4,323 605.7,324 C614,325 615.7,327.3 618.6,330 C621.4,332.7 621.7,335.5 622.9,340 C624,344.5 626.7,353.1 625.7,357.1 C624.8,361.2 618.6,363.1 617.1,364.3"/>
<path class="d" d="M578.6,332.9 C582.6,332.6 597.4,330.7 602.9,331.4 C608.3,332.1 609.5,334 611.4,337.1 C613.3,340.2 613.6,346 614.3,350 C615,354 615.2,359 615.7,361.4 C616.2,363.8 616.9,363.8 617.1,364.3"/>
<path class="d" d="M565.7,372.9 C566.7,369.5 569.3,356.9 571.4,352.9 C573.6,348.8 573.3,349.3 578.6,348.6 C583.8,347.9 597.1,347.9 602.9,348.6 C608.6,349.3 611.2,352.1 612.9,352.9"/>
<path class="d" d="M570,370 C571.2,369.3 572.9,366.7 577.1,365.7 C581.4,364.8 589.8,363.6 595.7,364.3 C601.7,365 608.1,367.1 612.9,370 C617.6,372.9 620.7,376.2 624.3,381.4 C627.9,386.7 632.4,395.2 634.3,401.4 C636.2,407.6 635.5,415.7 635.7,418.6"/>
<path class="d" d="M621.4,362.9 C623.8,365.5 631.7,371.7 635.7,378.6 C639.8,385.5 643.6,397.6 645.7,404.3 C647.9,411 648.1,416.2 648.6,418.6"/>
<path class="d" d="M631.4,358.6 C633.8,362.4 641.4,373.8 645.7,381.4 C650,389 655.2,400.5 657.1,404.3"/>
<path class="d" d="M637.1,338.6 L670,381.4"/>
<path class="d" d="M640,357.1 L650,355.7 L657.1,358.6 L655.7,364.3 L651.4,367.1"/>
<path class="d" d="M645.7,381.4 L652.9,380 L657.1,390 L665.7,387.1 L668.6,395.7 L662.9,398.6"/>
<path class="d" d="M627.1,301.4 L635.7,296.4 L645.7,298.6 L648.6,304.3"/>
<path class="d" d="M642.9,307.1 L670,325.7"/>
<path class="d" d="M631.4,322.9 L670,347.1"/>
<path class="d" d="M632.9,318.6 L670,340"/>
<path class="d" d="M627.1,301.4 L631.4,318.6"/>
<path class="d" d="M560,375.7 C563.6,376.2 574.8,376.2 581.4,378.6 C588.1,381 595.2,385.7 600,390 C604.8,394.3 607.6,399.5 610,404.3 C612.4,409 613.6,416.2 614.3,418.6"/>
<path class="d" d="M560,381.4 C563.1,381.9 572.6,381.9 578.6,384.3 C584.5,386.7 591.4,391.4 595.7,395.7 C600,400 602.4,406.2 604.3,410 C606.2,413.8 606.7,417.1 607.1,418.6"/>
<path class="d" d="M560,387.1 C562.6,387.6 570.5,387.6 575.7,390 C581,392.4 587.6,396.7 591.4,401.4 C595.2,406.2 597.4,415.7 598.6,418.6"/>
<path class="w" d="M503.6,320.7 L515,310.7 L521.4,305 L520.7,296.4 L537.9,272.1 L556.4,255 L565,249.3 L570.7,250 L576.4,254.3 L580.7,251.4 L586.4,250.7 L595,246.4 L600.7,246.4 L609.3,255 L613.6,259.3 L629.3,279.3 L625,293.6 L624.3,305 L620.7,316.4 L609.3,325 L595,323.6 L575,325 L566.4,327.9 L545,336.4 L525,349.3 Z" style="stroke-width:1.2"/>
<path class="d" d="M562.1,280 L613.6,259.3"/>
<path class="d" d="M580.7,307.9 L629.3,280.7"/>
<path class="d" d="M582.1,317.9 L623.6,295"/>
<path class="d" d="M562.1,280 L580.7,307.9 L582.1,317.9"/>
<path class="d" d="M556.4,255 L562.1,260.7 L575,276.4"/>
<path class="d" d="M576.4,254.3 L586.4,270.7"/>
<path class="d" d="M585,251.4 L596.4,267.9"/>
<path class="d" d="M600.7,246.4 L606.4,262.1"/>
<path class="d" d="M558.6,257.1 L575,277.9"/>
<path class="d" d="M537.9,272.1 L542.1,270.7 L559.3,292.1 L556.4,296.4"/>
<path class="d" d="M540.7,273.6 L557.9,293.6"/>
<path class="d" d="M555,285 C554.5,286.9 551.9,293.1 552.1,296.4 C552.4,299.8 552.9,302.6 556.4,305 C560,307.4 569.8,309.8 573.6,310.7 C577.4,311.7 578.3,310.7 579.3,310.7"/>
<path class="d" d="M520.7,296.4 L523.6,302.1 L537.9,316.4 L539.3,325"/>
<path class="d" d="M529.3,287.9 L531.4,295"/>
<path class="d" d="M533.6,282.9 L535.7,290"/>
<path class="d" d="M537.9,277.9 L540,285"/>
<path class="d" d="M503.6,320.7 L525,349.3"/>
<path class="d" d="M503.6,320.7 L515,310.7 L537.9,317.9"/>
<path class="d" d="M525,349.3 L545,336.4"/>
<path class="d" d="M536.4,313.6 L563.6,325"/>
<path class="d" d="M537.6,316.7 L563.6,327.9"/>
<path class="d" d="M538.7,319.9 L563.6,330.7"/>
<path class="d" d="M539.9,323 L563.6,333.6"/>
<ellipse class="d" cx="622.1" cy="260" rx="5.4" ry="5.7"/>
<path class="d" d="M612.1,255.7 L616.4,265 L620.7,267.1"/>
<path class="d" d="M626.4,300.7 C627.9,300 631.7,296.9 635,296.4 C638.3,296 643.3,296.4 646.4,297.9 C649.5,299.3 652.4,303.8 653.6,305"/>
<path class="d" d="M566.4,325 C567.9,324.8 570.2,323.8 575,323.6 C579.8,323.3 589.3,322.9 595,323.6 C600.7,324.3 605.7,326.2 609.3,327.9 C612.9,329.5 614,329.3 616.4,333.6 C618.8,337.9 622.4,350.2 623.6,353.6"/>
<path class="d" d="M569.3,333.6 C571.7,332.6 579.3,328.3 583.6,327.9 C587.9,327.4 591.2,328.8 595,330.7 C598.8,332.6 603.1,335.5 606.4,339.3 C609.8,343.1 613.6,351.2 615,353.6"/>
<path class="d" d="M569.3,353.6 C570.2,351.7 572.1,344.8 575,342.1 C577.9,339.5 583.1,338.3 586.4,337.9 C589.8,337.4 592.1,337.6 595,339.3 C597.9,341 602.1,346.4 603.6,347.9"/>
<path class="d" d="M575,339.3 L583.6,335 L586.4,337.9"/>
</g>
<g id="hose1">
<path class="w" d="M271.1,543.8 C272.9,541.3 276.7,536.1 281.8,530.6 C286.9,525.1 297.9,515.3 301.6,510.8 C305.3,506.3 301.7,505.6 304,503.4 C306.4,501.2 313.4,499.5 315.6,497.6 C317.8,495.7 315.2,493.6 317.2,491.8 C319.3,490 326,488.5 328,486.9 C329.9,485.2 326.3,483.4 328.8,481.9 C331.2,480.4 338.5,479.6 342.8,477.8 C347.1,476 349.7,474.1 354.3,471.2 C359,468.3 367,463 370.8,460.5 C374.7,458 373.6,458.2 377.4,456.4 C381.3,454.6 390.7,452 393.9,449.8 C397.1,447.6 394.5,443.2 396.4,443.2 C398.3,443.2 402.6,446.5 405.4,449.8 C408.3,453.1 411.6,458.9 413.7,463 C415.8,467.1 416.9,470.9 417.8,474.5 C418.7,478.1 418.8,481 419,484.4 C419.2,487.8 420.4,492.9 419,495.1 C417.5,497.3 414,496.6 410.4,497.6 C406.8,498.6 400.8,500.1 397.2,500.9 C393.6,501.7 391.2,502.4 389,502.5 C386.8,502.7 386.2,500.9 384,501.7 C381.8,502.5 378.2,506 375.8,507.5 C373.3,509 370.5,508.9 369.2,510.8 C367.8,512.7 368.9,517 367.5,519 C366.1,521.1 363,522.1 360.9,523.2 C358.9,524.3 356.4,524.3 355.2,525.6 C353.9,527 354.7,530.2 353.5,531.4 C352.3,532.6 349.5,532.4 347.7,533.1 C346,533.7 343.9,534.4 342.8,535.5 C341.7,536.6 342.5,538.4 341.1,539.6 C339.8,540.9 336.9,542.1 334.5,542.9 C332.2,543.8 329.3,543.4 327.1,544.6 C324.9,545.8 323.1,548 321.4,550.4 C319.6,552.7 318.3,555.9 316.4,558.6 C314.5,561.4 311.5,564.7 309.8,566.9 C308.2,569 313,575.4 306.5,571.8 C300.1,568.2 277,550.1 271.1,545.4 C265.2,540.7 269.3,546.2 271.1,543.8 Z" style="stroke:none"/>
<path class="d" d="M272.7,541.3 C274.2,539.5 277,535.7 281.8,530.6 C286.6,525.5 298.3,514.1 301.6,510.8" style="stroke-width:1.7"/>
<path class="d" d="M301.6,510.8 C301.8,509.7 301.8,506 303.2,504.2 C304.6,502.4 307.6,501.2 309.8,500.1 C312,499 315.3,498 316.4,497.6" style="stroke-width:1.7"/>
<path class="d" d="M315.6,497.9 C315.9,496.9 316,493.3 317.2,491.8 C318.5,490.3 321.1,489.7 323,489 C324.9,488.3 327.8,487.9 328.8,487.7" style="stroke-width:1.7"/>
<path class="d" d="M328,488 C328.2,487.1 328.2,483.9 329.6,482.4 C331,480.9 334,479.9 336.2,479.1 C338.4,478.4 341.7,478 342.8,477.8" style="stroke-width:1.7"/>
<path class="d" d="M342.8,477.8 C344.7,476.7 349.7,474 354.3,471.2 C359,468.5 367,463.8 370.8,461.3 C374.7,458.9 373.6,458.2 377.4,456.4 C381.3,454.5 391.2,451.2 393.9,450.1" style="stroke-width:1.7"/>
<path class="d" d="M419,495.1 C417.5,495.5 414,496.6 410.4,497.6 C406.8,498.6 400.6,500.1 397.2,500.9 C393.8,501.7 392,502.5 389.8,502.5 C387.6,502.6 385,501.4 384,501.2" style="stroke-width:1.7"/>
<path class="d" d="M384,501.2 C382.6,502.2 378.2,505.6 375.8,507.2 C373.3,508.8 370.5,508.8 369.2,510.8 C367.8,512.8 368.9,517 367.5,519 C366.1,521.1 363,522.2 360.9,523.2 C358.9,524.1 356.1,524.5 355.2,524.8" style="stroke-width:1.7"/>
<path class="d" d="M355.2,524.8 C354.9,525.8 354.7,529.5 353.5,530.9 C352.3,532.3 349.5,532.3 347.7,533.1 C346,533.8 343.6,535.1 342.8,535.5" style="stroke-width:1.7"/>
<path class="d" d="M342.8,535.5 C342.5,536.2 342.5,538.4 341.1,539.6 C339.8,540.9 336.9,542.1 334.5,542.9 C332.2,543.8 328.4,544.3 327.1,544.6" style="stroke-width:1.7"/>
<path class="d" d="M327.1,544.6 C326.2,545.6 323.1,548 321.4,550.4 C319.6,552.7 318.3,555.9 316.4,558.6 C314.5,561.4 311.3,564.8 309.8,566.9 C308.3,568.9 307.8,570.3 307.3,571" style="stroke-width:1.7"/>
<path class="d" d="M394.7,449 C395,447.9 394.9,443 396.4,442.9 C397.9,442.7 401.3,445.5 403.8,448.1 C406.3,450.8 409.2,455.1 411.2,458.9 C413.3,462.6 414.9,466.4 416.2,470.4 C417.4,474.4 418.2,478.6 418.6,482.8 C419.1,486.9 418.9,493.1 419,495.1" style="stroke-width:2.4"/>
<path class="h" d="M398.9,449 C400.2,450.2 404.8,453.2 407.1,456.4 C409.4,459.5 411.4,464.1 412.9,467.9 C414.4,471.8 415.5,475.3 416.2,479.5 C416.9,483.6 416.9,490.5 417,492.7"/>
<path class="w" d="M409.6,491 L416.2,488.5 L419.5,490.2 L419.5,496.8 L412.9,499.2 L409.6,497.6 L409.6,491" style="stroke-width:1.2"/>
<path class="h" d="M409.6,491 L412.9,492.7 L419.5,490.2"/>
<path class="h" d="M412.9,492.7 L412.9,499.2"/>
<path class="h" d="M374.1,458.9 C375.4,460.9 379.3,467 381.5,471.2 C383.7,475.5 386.1,479.4 387.3,484.4 C388.5,489.4 388.7,498.4 389,501.2"/>
<path class="h" d="M380.7,456.1 C382.1,458.6 386.6,466.4 389,471.2 C391.3,476.1 393.5,480.3 394.7,485.2 C396,490.2 396.1,498.3 396.4,500.9"/>
<path class="h" d="M342.8,478.1 C345.3,479.6 353.8,483.4 357.6,486.9 C361.5,490.4 364,495.3 365.9,499.2 C367.8,503.2 368.6,508.6 369.2,510.5"/>
<path class="h" d="M345.3,479.5 C347.7,481 355.9,485 359.6,488.5 C363.3,492.1 365.9,497.5 367.5,500.9 C369.2,504.3 369.2,507.8 369.5,509.1"/>
<path class="h" d="M329.6,485.2 C332.1,486.6 340.6,489.5 344.4,493.5 C348.3,497.5 351,503.9 352.7,509.1 C354.3,514.4 354.1,522.2 354.3,524.8"/>
<path class="h" d="M332.1,486.9 C334.5,488.3 342.7,491.4 346.4,495.1 C350.1,498.8 352.8,504.3 354.3,509.1 C355.9,514 355.4,521.5 355.7,524"/>
<path class="h" d="M317.2,495.1 C319,496.4 325.1,498.6 328,502.5 C330.8,506.5 333.2,513.5 334.5,519 C335.9,524.5 335.9,532.8 336.2,535.5"/>
<path class="h" d="M319.7,496.8 C321.4,498 327.2,500.5 329.9,504.2 C332.7,507.9 334.9,514 336.2,519 C337.5,524.1 337.6,532.1 337.8,534.7"/>
<path class="h" d="M304,507.5 C306.2,508.9 313.4,512.2 317.2,515.7 C321.1,519.3 324.9,524.3 327.1,528.9 C329.3,533.6 329.9,541.3 330.4,543.8"/>
<path class="h" d="M305.7,509.1 C307.9,510.4 315,513.1 318.9,516.6 C322.7,520 326.6,525.3 328.8,529.8 C331,534.2 331.5,541.2 332.1,543.4"/>
<path class="d" d="M271.1,543.8 C271.2,544.2 270.1,544.3 271.9,546.2 C273.7,548.2 277.9,552.3 281.8,555.3 C285.6,558.3 290.9,561.7 295,564.4 C299.1,567.1 304.2,570.6 306.5,571.5 C308.9,572.3 308.6,569.7 309,569.3" style="stroke-width:2"/>
<path class="h" d="M271.9,545.4 C273.8,546.7 279.3,550.1 283.4,552.8 C287.6,555.6 292.6,559.3 296.6,561.9 C300.6,564.5 305.6,567.4 307.3,568.5"/>
<path class="h" d="M275.2,542.9 C277.1,544 282.6,547.1 286.7,549.5 C290.9,552 296.1,555.3 299.9,557.8 C303.8,560.3 308.2,563.3 309.8,564.4"/>
<path class="d" d="M271.1,543.8 C271.8,543.4 272.9,543.8 275.2,541.3 C277.5,538.8 283.4,531 285.1,528.9"/>
<path class="h" d="M285.1,528.9 L319.7,549.5"/>
<path class="h" d="M281.8,533.9 L316.4,555.3"/>
<ellipse class="h" cx="290.9" cy="534.7" rx="4.9" ry="4.3"/>
<path class="h" d="M305.7,543.8 L311.5,544.6 L313.1,550.4 L308.2,551.2 L305.7,543.8"/>
<path class="d" d="M275.2,551.2 L283.4,557" style="stroke-width:2"/>
</g>
<g id="intercooler">
<path class="h" d="M325.8,676.1 L568.8,817.3" style="stroke-width:1.1"/>
<path class="h" d="M325.6,681.1 L568.6,822.1" style="stroke-width:1.1"/>
<path class="h" d="M325.4,686.2 L568.4,826.9" style="stroke-width:1.1"/>
<path class="h" d="M325.1,691.3 L568.1,831.6" style="stroke-width:1.1"/>
<path class="h" d="M324.9,696.4 L567.9,836.4" style="stroke-width:1.1"/>
<path class="h" d="M324.7,701.4 L567.7,841.2" style="stroke-width:1.1"/>
<path class="h" d="M324.5,706.5 L567.5,846.0" style="stroke-width:1.1"/>
<path class="h" d="M324.3,711.6 L567.3,850.8" style="stroke-width:1.1"/>
<path class="h" d="M324.1,716.6 L567.1,855.6" style="stroke-width:1.1"/>
<path class="h" d="M323.9,721.7 L566.9,860.4" style="stroke-width:1.1"/>
<path class="h" d="M323.6,726.8 L566.6,865.1" style="stroke-width:1.1"/>
<path class="h" d="M323.4,731.9 L566.4,869.9" style="stroke-width:1.1"/>
<path class="h" d="M323.2,736.9 L566.2,874.7" style="stroke-width:1.1"/>
<path class="d" d="M326.0,671.0 L569.0,812.5"/>
<path class="d" d="M323.0,742.0 L566.0,879.5" style="stroke-width:1.6"/>
<path class="d" d="M326.0,671.0 L323.0,742.0" style="stroke-width:2.2"/>
<path class="d" d="M371.0,650.0 L611.5,789.0"/>
<path class="d" d="M326.0,671.0 L371.0,650.0"/>
<path class="d" d="M350,635.7 C351.4,635.2 355.2,633 358.6,632.9 C361.9,632.7 367.1,633.5 370,635 C372.9,636.5 374.4,639.3 375.7,642.1 C377,645 377.5,650.5 377.9,652.1"/>
<path class="d" d="M311.4,658.6 L332.9,631.4 L338.6,630.4 L370.7,650"/>
<path class="h" d="M313.6,658.6 L333.6,633.6 L337.9,632.9 L370,651.4"/>
<path class="d" d="M311.4,657.9 C311.2,661.9 310.5,673.3 310,682.1 C309.5,691 308.9,702.6 308.6,710.7 C308.2,718.8 307.1,726.5 307.9,730.7 C308.6,734.9 310.4,733.8 312.9,735.7 C315.4,737.6 321.2,741.1 322.9,742.1"/>
<path class="d" d="M311.4,660 C312,661 312.6,663.9 315,665.7 C317.4,667.5 323.9,669.9 325.7,670.7"/>
<path class="h" d="M310,693.6 L320.7,702.1"/>
<path class="h" d="M310,702.1 L320.7,707.9"/>
<ellipse class="d" cx="345.7" cy="660" rx="3.7" ry="2.6"/>
<ellipse class="h" cx="372.1" cy="675" rx="2" ry="1.3"/>
<path class="h" d="M312.9,735.7 L315,735"/>
<path class="d" d="M646.4,826.4 C647.7,827 652,827 654.3,830 C656.5,833 659.3,840 660,844.3 C660.7,848.6 660,852.6 658.6,855.7 C657.1,858.8 653.8,861 651.4,862.9 C649,864.8 645.5,866.4 644.3,867.1"/>
<path class="h" d="M645.7,834.3 C646.5,835 649.5,836.4 650.7,838.6 C651.9,840.7 653,843.8 652.9,847.1 C652.7,850.5 651.3,855.7 650,858.6 C648.7,861.4 645.8,863.3 645,864.3"/>
<path class="h" d="M645,844.3 C645.6,845.2 648.1,847.6 648.6,850 C649,852.4 648,857.1 647.9,858.6"/>
<path class="w" d="M569.3,812 L611.4,788.6 L645.7,807.9 L646.4,827 L644.3,878.6 L600,891.4 L584.3,891.4 L565.7,882.9 Z" style="stroke-width:1.2"/>
<path class="d" d="M569.3,812.1 C571.5,813.5 577.7,818.8 582.9,820 C588,821.2 592.9,820.5 600,819.3 C607.1,818.1 618.1,814.8 625.7,812.9 C633.3,811 642.4,808.7 645.7,807.9"/>
<path class="h" d="M611.4,791.4 L645.7,810"/>
<path class="h" d="M572.1,847.1 C575.4,848.1 585.4,852.3 591.4,852.9 C597.5,853.5 605.7,851.1 608.6,850.7"/>
<path class="h" d="M572.1,852.1 C575.4,853.1 585.4,857.3 591.4,857.9 C597.5,858.5 605.7,856.1 608.6,855.7"/>
<ellipse class="d" cx="630.7" cy="818.6" rx="1.4" ry="1.3" style="fill:#000"/>
<ellipse class="d" cx="605" cy="824.3" rx="1.4" ry="1.3" style="fill:#000"/>
<ellipse class="d" cx="635.7" cy="848.3" rx="1.4" ry="1.3" style="fill:#000"/>
<ellipse class="d" cx="628.6" cy="879.3" rx="1.4" ry="1.3" style="fill:#000"/>
<ellipse class="d" cx="602.9" cy="884.3" rx="1.4" ry="1.3" style="fill:#000"/>
<ellipse class="h" cx="593.6" cy="802.9" rx="3.6" ry="2.1"/>
<ellipse class="h" cx="372.2" cy="674.8" rx="2.2" ry="1.5"/>
<ellipse class="h" cx="566" cy="787.1" rx="2.2" ry="1.5"/>
</g>
<g id="hose4">
<path class="w" d="M876,419 L866,424 L858,432 L848,440 L840,448 L832,456 L826,464 L820,472 L814,484 L809,492 L802,504 L796,514 L792,524 L789,536 L786,542 L830,554 L836,542 L842,532 L848,522 L854,512 L860,500 L866,492 L872,484 L880,476 L888,470 L900,462 L912,454 Z" style="stroke:none"/>
<path class="h" d="M876,419 Q908.2,423 909.8,455.5"/>
<path class="h" d="M872.9,420.5 Q905.5,424.3 907.4,457.1"/>
<path class="h" d="M867.5,423.2 Q900.7,426.6 903.1,459.9"/>
<path class="h" d="M864.8,425.2 Q898,428.3 900.7,461.5"/>
<path class="h" d="M860.5,429.5 Q893.1,431.8 896.5,464.3"/>
<path class="h" d="M858.1,431.9 Q890.4,433.8 894.1,466"/>
<path class="h" d="M853.4,435.7 Q885.5,436.9 889.8,468.8"/>
<path class="h" d="M850.7,437.8 Q882.8,438.7 887.4,470.4"/>
<path class="h" d="M846.2,441.8 Q878.1,442 883.4,473.5"/>
<path class="h" d="M843.8,444.2 Q875.4,444.1 881,475.2"/>
<path class="h" d="M839.5,448.5 Q871.1,447.7 877.3,478.7"/>
<path class="h" d="M837.1,450.9 Q868.7,449.8 875.3,480.7"/>
<path class="h" d="M832.8,455.2 Q864.5,453.5 871.7,484.4"/>
<path class="h" d="M830.6,457.9 Q862.4,455.8 870,486.7"/>
<path class="h" d="M827,462.7 Q858.8,460 866.9,490.8"/>
<path class="h" d="M824.9,465.4 Q856.7,462.4 865.2,493.1"/>
<path class="h" d="M821.3,470.3 Q853,466.6 862.1,497.2"/>
<path class="h" d="M819.4,473.1 Q849.4,471.6 860.4,499.5"/>
<path class="h" d="M816.7,478.5 Q846.5,476.4 858,504"/>
<path class="h" d="M815.2,481.6 Q845,479.2 856.7,506.6"/>
<path class="h" d="M812.2,486.8 Q842.1,483.8 854.4,511.2"/>
<path class="h" d="M810.4,489.7 Q840.3,486.4 853,513.7"/>
<path class="h" d="M807.3,494.9 Q837.2,491 850.4,518.1"/>
<path class="h" d="M805.6,497.9 Q835.4,493.6 848.9,520.6"/>
<path class="h" d="M802.5,503.1 Q832.2,498.3 846.2,524.9"/>
<path class="h" d="M800.8,506 Q830.5,500.9 844.7,527.4"/>
<path class="h" d="M797.7,511.2 Q827.3,505.5 842.1,531.8"/>
<path class="h" d="M795.9,514.2 Q825.5,508.1 840.6,534.3"/>
<path class="h" d="M793.7,519.8 Q822.6,513.3 838,538.7"/>
<path class="h" d="M792.4,523 Q821,516.2 836.5,541.1"/>
<path class="h" d="M790.8,528.8 Q818.6,521.6 834.2,545.7"/>
<path class="h" d="M790,532.1 Q817.2,524.7 832.9,548.3"/>
<path class="h" d="M788.1,537.8 Q814.7,530 830.6,552.8"/>
<path class="h" d="M786.6,540.9 Q813,531.8 830,554"/>
<path class="d" d="M875.5,417.9 L871.6,421.2 L866.7,422.3 L863.6,426.4 L859.3,429.1 L856.5,433.2 L851.9,435.3 L848.9,439.3 L844.5,441.8 L841.9,446.1 L837.6,448.7 L835,453 L830.7,455.8 L828.7,460.4 L824.8,463.6 L822.8,468.2 L818.9,471.5 L817.7,476.5 L814.5,480.3 L813.3,485.2 L809.7,488.7 L808.1,493.5 L804.6,497.1 L803.2,501.9 L799.7,505.5 L798.2,510.3 L794.7,514 L794,519.1 L791,523.2 L790.9,528.3 L788.6,532.7 L788.2,537.6 L784.9,541.5" style="stroke-width:1.9"/>
<path class="d" d="M912.7,455 L907.8,456.8 L904.2,460.6 L899.3,462.4 L895.8,466.3 L890.9,468.1 L887.4,471.9 L882.6,474 L879.6,478.1 L875.2,480.8 L872.6,485.2 L868.6,488.5 L866.5,493.3 L862.5,496.7 L860.7,501.4 L857.3,505.4 L856.1,510.4 L852.6,514.3 L851,519.3 L847.4,523 L845.8,528 L842.2,531.7 L840.6,536.7 L836.9,540.4 L835.6,545.5 L832.3,549.5 L831.1,554.5" style="stroke-width:1.9"/>
<path class="w" d="M928,332 C917.7,331.3 926.5,340.3 926,344 C925.5,347.7 925,350.3 925,354 C925,357.7 926,362.3 926,366 C926,369.7 924.7,373.8 925,376 C925.3,378.2 927.7,376.7 928,379 C928.3,381.3 927.7,386.5 927,390 C926.3,393.5 925.2,397.3 924,400 C922.8,402.7 924,403.7 920,406 C916,408.3 907.3,411.8 900,414 C892.7,416.2 875.2,416.3 876,419 C876.8,421.7 899,424.2 905,430 C911,435.8 910.8,450 912,454 C913.2,458 910.7,454.3 912,454 C913.3,453.7 917,453 920,452 C923,451 926.7,449.7 930,448 C933.3,446.3 937,443.7 940,442 C943,440.3 946,440 948,438 C950,436 950.5,432.5 952,430 C953.5,427.5 955.5,425 957,423 C958.5,421 959.5,420.5 961,418 C962.5,415.5 964.5,411.7 966,408 C967.5,404.3 969,399.3 970,396 C971,392.7 971.3,391 972,388 C972.7,385 973.2,380.3 974,378 C974.8,375.7 975.7,376 977,374 C978.3,372 980.7,368.7 982,366 C983.3,363.3 984,361 985,358 C986,355 997.5,352.3 988,348 C978.5,343.7 938.3,332.7 928,332 Z" style="stroke:none"/>
<path class="d" d="M928,332 C927.7,334 926.5,340.3 926,344 C925.5,347.7 925,350.3 925,354 C925,357.7 926,362.3 926,366 C926,369.7 924.7,373.8 925,376 C925.3,378.2 927.7,376.7 928,379 C928.3,381.3 927.7,386.5 927,390 C926.3,393.5 925.2,397.3 924,400 C922.8,402.7 921.2,404.2 920,406 C918.8,407.8 917.5,410.2 917,411" style="stroke-width:1.6"/>
<path class="d" d="M988,348 C987.5,349.7 986,355 985,358 C984,361 983.3,363.3 982,366 C980.7,368.7 978.3,372 977,374 C975.7,376 974.8,375.7 974,378 C973.2,380.3 972.7,385 972,388 C971.3,391 971,392.7 970,396 C969,399.3 967.5,404.3 966,408 C964.5,411.7 962.5,415.5 961,418 C959.5,420.5 958.5,421 957,423 C955.5,425 953.5,427.5 952,430 C950.5,432.5 950,436 948,438 C946,440 943,440.3 940,442 C937,443.7 933.3,446.3 930,448 C926.7,449.7 923,451 920,452 C917,453 913.3,453.7 912,454" style="stroke-width:1.6"/>
<path class="d" d="M876,419 C880,418.2 891.7,415.7 900,414 C908.3,412.3 920.8,410 926,409 C931.2,408 930.2,408.2 931,408" style="stroke-width:1.6"/>
<path class="h" d="M876,419 C879.7,419.8 892.5,420.8 898,424 C903.5,427.2 906.7,433 909,438 C911.3,443 911.5,451.3 912,454"/>
<path class="h" d="M880,418 C883.5,419.2 895.8,421.3 901,425 C906.2,428.7 909,435.5 911,440 C913,444.5 912.7,450 913,452"/>
<path class="d" d="M925,330 C925.3,329.3 924.5,327.3 927,326 C929.5,324.7 934.5,323.1 940,322.4 C945.5,321.7 954,321.2 960,321.6 C966,322 971.3,322.8 976,325 C980.7,327.2 985.3,332.2 988,335 C990.7,337.8 991.3,340 992,342 C992.7,344 992.7,346 992,347 C991.3,348 988.7,347.8 988,348" style="stroke-width:2"/>
<path class="h" d="M928,332 C930,331.2 934.7,328 940,327 C945.3,326 954,325.5 960,326 C966,326.5 971.7,327.7 976,330 C980.3,332.3 984,337.3 986,340 C988,342.7 987.7,345 988,346"/>
<path class="d" d="M925,330 C925.2,330.7 925.5,333.7 926,334 C926.5,334.3 927.7,332.3 928,332"/>
<path class="h" d="M926,351 C928.3,350.3 934.3,347.5 940,347 C945.7,346.5 953,346.5 960,348 C967,349.5 978.3,354.7 982,356"/>
<path class="h" d="M928,360 C930,359.7 934.7,358.2 940,358 C945.3,357.8 953.7,357.7 960,359 C966.3,360.3 975,364.8 978,366"/>
<path class="h" d="M929,364 C934.2,363.9 952.2,362.6 960,363.6 C967.8,364.6 973.3,368.9 976,370"/>
<path class="h" d="M928,369 C933.3,368.8 952.3,366.8 960,368 C967.7,369.2 971.7,374.7 974,376"/>
<ellipse class="h" cx="958.4" cy="341" rx="2" ry="1.5"/>
<path class="d" d="M941.5,437.7 C942,435.9 943.7,430.5 944.6,426.9 C945.5,423.3 946.1,418.9 946.9,416.2 C947.7,413.5 948.3,411.8 949.2,410.8 C950.1,409.8 951.3,409.6 952.3,410 C953.2,410.4 954.2,411.6 954.9,413.1 C955.5,414.6 956.2,417.4 956.2,419.2 C956.2,421 955.2,422.5 954.6,423.8 C954,425.1 952.9,425.3 952.3,426.9 C951.7,428.4 951.4,431.3 950.8,433.1 C950.2,434.9 948.9,436.9 948.5,437.7" style="stroke-width:1.4"/>
<path class="h" d="M944.6,433.1 C945.1,431.1 946.7,423.6 947.7,420.8 C948.7,418 949.9,416.7 950.8,416.2 C951.7,415.7 952.9,416.4 953.1,417.7 C953.4,419 952.4,422.8 952.3,423.8" style="stroke-width:1.1"/>
<path class="h" d="M943,436 C943.5,434.2 945.1,428 946,425 C946.9,422 948.1,419.2 948.5,418"/>
<path class="h" d="M972,396 C972.7,395.8 975,394.7 976,395 C977,395.3 978.2,397.2 978,398 C977.8,398.8 975.5,399.7 975,400"/>
<path class="h" d="M972,401 C972.7,400.8 975,399.7 976,400 C977,400.3 978.2,402.2 978,403 C977.8,403.8 975.5,404.7 975,405"/>
<path class="w" d="M786,542 L782,550 L778,560 L772,570 L764,576 L808,598 L806,592 L810,588 L816,581 L820,574 L824,566 L830,554 Z" style="stroke:none"/>
<path class="d" d="M786,542 C785.3,543.3 783.3,547 782,550 C780.7,553 779.7,556.7 778,560 C776.3,563.3 774.3,567.3 772,570 C769.7,572.7 765.3,575 764,576" style="stroke-width:1.6"/>
<path class="d" d="M830,554 C829,556 825.7,562.7 824,566 C822.3,569.3 821.3,571.5 820,574 C818.7,576.5 817.7,578.7 816,581 C814.3,583.3 811.7,586.2 810,588 C808.3,589.8 806.3,590.3 806,592 C805.7,593.7 807.7,597 808,598" style="stroke-width:1.6"/>
<path class="h" d="M786,545 C788.3,546.2 794,549.2 800,552 C806,554.8 818.3,560.3 822,562"/>
<path class="h" d="M784,549 C786.7,550.3 793.8,553.8 800,557 C806.2,560.2 817.5,566.2 821,568"/>
<path class="w" d="M764,576 L754,588 L746,600 L740,616 L738,632 L740,650 L744,666 L748,684 L750,698 L797,696 L800,686 L796,672 L792,652 L790,640 L792,626 L800,612 L808,598 Z" style="stroke:none"/>
<path class="h" d="M763.3,578.0 Q768.2,585.6 776.0,590.0 A1.3,1.3 0 0 1 773.9,592.2 Q766.1,587.8 761.3,580.2" style="stroke-width:1.25"/>
<path class="h" d="M757.3,585.2 Q763.2,592.7 771.8,596.7 A1.3,1.3 0 0 1 770.0,599.0 Q761.3,595.1 755.4,587.6" style="stroke-width:1.25"/>
<path class="h" d="M752.0,592.5 Q758.6,599.7 767.6,603.4 A1.3,1.3 0 0 1 765.9,605.8 Q756.9,602.2 750.3,595.0" style="stroke-width:1.25"/>
<path class="h" d="M747.2,599.8 Q754.6,606.8 764.3,610.1 A1.3,1.3 0 0 1 762.7,612.6 Q753.0,609.4 745.6,602.3" style="stroke-width:1.25"/>
<path class="h" d="M744.4,607.0 Q751.8,613.8 761.4,616.8 A1.3,1.3 0 0 1 759.9,619.4 Q750.3,616.4 742.9,609.6" style="stroke-width:1.25"/>
<path class="h" d="M741.7,614.2 Q749.5,620.8 759.4,623.4 A1.3,1.3 0 0 1 758.0,626.1 Q748.1,623.5 740.3,616.9" style="stroke-width:1.25"/>
<path class="h" d="M740.3,621.5 Q748.2,627.8 758.1,630.1 A1.3,1.3 0 0 1 756.8,632.8 Q746.9,630.5 739.0,624.2" style="stroke-width:1.25"/>
<path class="h" d="M739.4,628.8 Q747.3,634.8 757.0,636.8 A1.3,1.3 0 0 1 755.8,639.5 Q746.0,637.5 738.2,631.5" style="stroke-width:1.25"/>
<path class="h" d="M739.4,636.0 Q747.4,641.8 757.0,643.5 A1.3,1.3 0 0 1 755.8,646.3 Q746.2,644.5 738.3,638.8" style="stroke-width:1.25"/>
<path class="h" d="M740.2,643.2 Q747.8,648.8 757.0,650.2 A1.3,1.3 0 0 1 755.9,653.0 Q746.6,651.5 739.1,646.0" style="stroke-width:1.25"/>
<path class="h" d="M741.1,650.5 Q748.7,655.7 757.9,656.9 A1.3,1.3 0 0 1 756.8,659.7 Q747.6,658.5 740.1,653.3" style="stroke-width:1.25"/>
<path class="h" d="M742.9,657.8 Q750.1,662.7 758.7,663.6 A1.3,1.3 0 0 1 757.7,666.4 Q749.0,665.5 741.9,660.6" style="stroke-width:1.25"/>
<path class="h" d="M744.8,665.0 Q751.5,669.7 759.8,670.2 A1.3,1.3 0 0 1 758.8,673.1 Q750.6,672.5 743.8,667.8" style="stroke-width:1.25"/>
<path class="h" d="M746.4,672.2 Q753.0,676.7 761.1,676.9 A1.3,1.3 0 0 1 760.1,679.8 Q752.1,679.5 745.5,675.1" style="stroke-width:1.25"/>
<path class="h" d="M748.0,679.5 Q754.6,683.7 762.4,683.6 A1.3,1.3 0 0 1 761.6,686.5 Q753.8,686.6 747.2,682.4" style="stroke-width:1.25"/>
<path class="h" d="M749.4,686.8 Q756.2,690.7 764.1,690.3 A1.3,1.3 0 0 1 763.4,693.2 Q755.5,693.6 748.7,689.7" style="stroke-width:1.25"/>
<path class="h" d="M750.4,694.0 Q757.7,697.7 765.8,697.0 A1.3,1.3 0 0 1 765.2,699.9 Q757.1,700.6 749.9,696.9" style="stroke-width:1.25"/>
<path class="h" d="M807.0,601.5 Q793.9,601.2 781.6,596.5 M781.6,596.5 A1.3,1.3 0 0 0 781.0,599.4 Q793.3,604.1 806.4,604.4" style="stroke-width:1.25"/>
<path class="h" d="M802.9,608.5 Q789.0,608.3 775.8,603.7 M775.8,603.7 A1.3,1.3 0 0 0 775.3,606.7 Q788.5,611.2 802.4,611.4" style="stroke-width:1.25"/>
<path class="h" d="M798.8,615.5 Q784.8,615.4 771.5,610.9 M771.5,610.9 A1.3,1.3 0 0 0 771.0,613.9 Q784.3,618.3 798.3,618.4" style="stroke-width:1.25"/>
<path class="h" d="M794.7,622.5 Q781.0,622.5 767.9,618.2 M767.9,618.2 A1.3,1.3 0 0 0 767.4,621.1 Q780.5,625.5 794.3,625.4" style="stroke-width:1.25"/>
<path class="h" d="M790.9,629.5 Q777.3,629.6 764.3,625.4 M764.3,625.4 A1.3,1.3 0 0 0 763.8,628.4 Q776.8,632.6 790.5,632.4" style="stroke-width:1.25"/>
<path class="h" d="M789.9,636.5 Q776.0,636.7 762.7,632.6 M762.7,632.6 A1.3,1.3 0 0 0 762.3,635.6 Q775.6,639.7 789.5,639.4" style="stroke-width:1.25"/>
<path class="h" d="M789.2,643.5 Q775.3,643.8 762.0,639.8 M762.0,639.8 A1.3,1.3 0 0 0 761.6,642.8 Q774.9,646.8 788.8,646.4" style="stroke-width:1.25"/>
<path class="h" d="M790.3,650.4 Q775.9,650.9 762.0,647.1 M762.0,647.1 A1.3,1.3 0 0 0 761.6,650.0 Q775.6,653.9 790.0,653.4" style="stroke-width:1.25"/>
<path class="h" d="M791.6,657.4 Q776.9,658.0 762.6,654.3 M762.6,654.3 A1.3,1.3 0 0 0 762.3,657.3 Q776.6,661.0 791.3,660.4" style="stroke-width:1.25"/>
<path class="h" d="M793.1,664.4 Q778.1,665.2 763.6,661.5 M763.6,661.5 A1.3,1.3 0 0 0 763.3,664.5 Q777.8,668.1 792.8,667.4" style="stroke-width:1.25"/>
<path class="h" d="M794.5,671.4 Q779.6,672.3 765.2,668.7 M765.2,668.7 A1.3,1.3 0 0 0 764.9,671.7 Q779.4,675.3 794.2,674.4" style="stroke-width:1.25"/>
<path class="h" d="M796.3,678.4 Q781.5,679.4 767.0,676.0 M767.0,676.0 A1.3,1.3 0 0 0 766.7,678.9 Q781.2,682.4 796.1,681.4" style="stroke-width:1.25"/>
<path class="h" d="M798.4,685.4 Q783.4,686.5 768.7,683.2 M768.7,683.2 A1.3,1.3 0 0 0 768.5,686.2 Q783.2,689.5 798.2,688.4" style="stroke-width:1.25"/>
<path class="h" d="M797.5,692.4 Q783.7,693.6 770.3,690.4 M770.3,690.4 A1.3,1.3 0 0 0 770.1,693.4 Q783.5,696.6 797.3,695.4" style="stroke-width:1.25"/>
<path class="d" d="M763.2,575.3 L761.5,578.9 L758.2,581.2 L756.6,584.8 L753.3,587.1 L752,591 L749,593.5 L747.8,597.3 L744.8,600.2 L744.4,604.2 L742,607.4 L741.7,611.4 L739.3,614.6 L739.7,618.7 L738.1,622.4 L738.7,626.3 L737.1,630 L738.2,634 L737.5,637.9 L739.1,641.6 L738.4,645.5 L739.9,649.2 L739.7,653.2 L741.7,656.7 L741.5,660.7 L743.5,664.1 L743.3,668.1 L745.2,671.6 L745,675.6 L746.9,679.1 L746.7,683.1 L748.4,686.6 L747.8,690.6 L749.5,694.2 L748.9,698.2" style="stroke-width:1.8"/>
<path class="d" d="M809,598.5 L806.2,601.2 L805.3,605 L802.5,607.7 L801.6,611.4 L798.8,614.1 L797.9,617.9 L795.1,620.6 L794.2,624.3 L791.8,627.2 L792.4,631 L790.8,634.5 L791.3,638.3 L790.3,641.8 L792,645.3 L791.5,649.2 L793.2,652.6 L792.9,656.5 L794.7,659.9 L794.4,663.8 L796.2,667.2 L795.8,671 L797.8,674.3 L797.8,678.2 L799.8,681.5 L799.8,685.3 L800.2,689.2 L798.1,692.4 L798.1,696.3" style="stroke-width:1.8"/>
<path class="w" d="M750,698 L754,704 L755,714 L751,722 L744,730 L737,737 L772,769 L777,762 L784,752 L790,735 L795,716 L795,712 L797,696 Z" style="stroke:none"/>
<path class="d" d="M750,698 C750.7,699 753.2,701.3 754,704 C754.8,706.7 755.5,711 755,714 C754.5,717 752.8,719.3 751,722 C749.2,724.7 746.3,727.5 744,730 C741.7,732.5 738.2,735.8 737,737" style="stroke-width:1.6"/>
<path class="d" d="M797,696 C796.7,698.7 795.3,708.7 795,712 C794.7,715.3 795.8,712.2 795,716 C794.2,719.8 791.8,729 790,735 C788.2,741 786.2,747.5 784,752 C781.8,756.5 779,759.2 777,762 C775,764.8 772.8,767.8 772,769" style="stroke-width:1.6"/>
<path class="h" d="M750,698 L762,701 L772,699"/>
<path class="w" d="M735,742 L723,754 L720,757 L721,759 L736,774 L753,788 L756,785 L769,773 L771,774" style="stroke-width:1.7"/>
<path class="d" d="M732,738 L772,770" style="stroke-width:2"/>
<path class="h" d="M735,738 L773,768"/>
<path class="h" d="M737,741 L771,772"/>
<path class="h" d="M725,756 L754,784"/>
<path class="h" d="M737,747 C736.7,747.5 734.7,748.7 735,750 C735.3,751.3 737.5,754 739,755 C740.5,756 742.8,756.3 744,756 C745.2,755.7 745.7,753.5 746,753"/>
<path class="h" d="M752,764 C752.3,764.7 752.8,767 754,768 C755.2,769 757.8,770.2 759,770 C760.2,769.8 760.7,767.5 761,767"/>
<path class="d" d="M733,737 L731,740 L734,742" style="stroke-width:2"/>
</g>
<g id="sensor">
<path class="d" d="M1007.3,443 C1010.2,443.8 1021.9,446.6 1025,448 C1028.2,449.3 1028.9,451.3 1026,450.9 C1023.1,450.5 1010.8,446.8 1007.6,445.7 C1004.3,444.6 1006.5,444.8 1006.5,444.3 C1006.4,443.9 1007.1,443.2 1007.3,443" style="stroke-width:1.8"/>
<path class="w" d="M1025.7,451.9 L1027.7,444 L1033.6,442 L1034.9,436.8 L1039.6,436.1 L1043.5,437.4 L1046.1,434.8 L1050.1,434.1 L1050.1,431.5 L1054.7,428.5 L1059.3,430.2 L1065.3,432.1 L1065.9,434.8 L1065.3,438.7 L1063.3,441.4 L1062.6,448 L1059.3,450.6 L1056,455.9 L1053.4,458.5 L1046.1,461.1 L1039.6,463.1 L1038.2,467.7 L1033,469.1 L1027.7,466.4 L1026.4,462.5 L1025,457.2 Z" style="stroke-width:2.4"/>
<path class="h" d="M1029,446 C1028.8,447.4 1028.1,451.6 1028,454.6 C1027.9,457.5 1028.3,462.2 1028.3,463.8" style="stroke-width:1.1"/>
<path class="h" d="M1031.6,444.7 C1031.5,446.3 1030.8,451.1 1030.7,454.6 C1030.5,458 1030.9,463.3 1031,465.1" style="stroke-width:1.1"/>
<path class="h" d="M1036.9,438.7 C1036.5,440.5 1034.8,444.9 1034.3,449.3 C1033.7,453.7 1033.7,462.5 1033.6,465.1" style="stroke-width:1.1"/>
<path class="h" d="M1039.6,439.4 C1039.1,441 1037.4,445.2 1036.9,449.3 C1036.5,453.3 1036.9,461.4 1036.9,463.8" style="stroke-width:1.1"/>
<path class="h" d="M1042.8,442.7 C1042.4,444.2 1040.9,448.8 1040.2,451.9 C1039.6,455 1039.1,459.6 1038.9,461.1" style="stroke-width:1.1"/>
<path class="h" d="M1046.1,434.8 L1048.1,446.6 L1062,449.3" style="stroke-width:1.1"/>
<path class="h" d="M1052.1,433.5 L1064.6,434.8"/>
<path class="h" d="M1051.4,435.1 L1064.3,436.4"/>
<path class="h" d="M1046.1,448 L1044.8,455.2 L1051.4,455.9 L1052.1,449.9" style="stroke-width:1.3"/>
<path class="h" d="M1056.7,438.1 C1056.3,438.1 1054.4,438 1054.1,438.4 C1053.7,438.8 1054.3,439.9 1054.7,440.4 C1055.2,440.8 1056.6,440.5 1056.7,441 C1056.8,441.5 1056,443.1 1055.4,443.3 C1054.8,443.6 1053.4,442.8 1053.1,442.7"/>
</g>

<!-- FRAMES -->
<g id="frames">
<rect class="f" x="229.5" y="365.5" width="252" height="256"/>
<rect class="f" x="671.5" y="255.5" width="413" height="606"/>
<rect class="f" x="1164.5" y="570.5" width="103" height="295"/>
<line class="f" x1="1164" y1="644.5" x2="1268" y2="644.5"/>
<line class="f" x1="1164" y1="718.5" x2="1268" y2="718.5"/>
<line class="f" x1="1164" y1="792.5" x2="1268" y2="792.5"/>
</g>

<!-- LEADERS -->
<g id="leaders" class="t">
<line x1="205" y1="493.5" x2="229" y2="493.5"/>
<line x1="1085" y1="558.5" x2="1119" y2="558.5"/>
<line x1="1031.5" y1="471" x2="1031.5" y2="499"/>
<line x1="1129.5" y1="252" x2="1129.5" y2="282"/>
<polyline points="1126.4,361 1115.4,407.4 1069.4,392.4 1061,430"/>
<line x1="952" y1="426" x2="1007" y2="444"/>
<line x1="926.4" y1="488" x2="920" y2="455"/>
<line x1="980" y1="261" x2="1002" y2="192"/>
<line x1="964.4" y1="310" x2="961" y2="322.4"/>
<line x1="722" y1="791.6" x2="738" y2="776.6"/>
<line x1="475" y1="441" x2="511" y2="429"/>
<line x1="427" y1="456" x2="412" y2="460"/>
<line x1="280" y1="567" x2="288" y2="556"/>
</g>

<!-- CIRCLES -->
<g id="circles">
<circle class="c" cx="450.5" cy="447.5" r="23.4"/>
<circle class="c" cx="264.7" cy="589" r="23.4"/>
<circle class="c" cx="972.3" cy="285" r="23.4"/>
<circle class="c" cx="930" cy="512.5" r="23.4"/>
<circle class="c" cx="702.5" cy="808.5" r="23.4"/>
</g>

<!-- LABELS -->
<g id="labels" font-size="29">
<text x="442" y="458">2</text>
<text x="256" y="599">3</text>
<text x="964.4" y="295.5">5</text>
<text x="921.6" y="523">9</text>
<text x="693.6" y="819">6</text>
<text x="185" y="501">1</text>
<text x="1123" y="568">4</text>
<text x="1022.6" y="523">7</text>
<text x="1121" y="249">8</text>
<text x="1172" y="598">9</text>
<text x="1172" y="672">6</text>
<text x="1172" y="712.5">5</text>
<text x="1172" y="746.5">3</text>
<text x="1172" y="787.5">2</text>
</g>
<text x="1172" y="885" font-size="18" style="font-weight:normal;letter-spacing:1.1px">00163590</text>

<!-- PANEL ICONS -->
<g id="panel">
<ellipse class="r" cx="1228.4" cy="680" rx="33.2" ry="19.2"/>
<ellipse class="r" cx="1228.4" cy="680.3" rx="27.3" ry="12.8"/>
<ellipse class="r" cx="1228.4" cy="752.7" rx="33.2" ry="19"/>
<ellipse class="r" cx="1228.7" cy="752.5" rx="27.6" ry="12.9"/>
<path class="r" d="M1202,613 Q1205,632 1227,633.5 Q1249,632 1252,613"/>
<ellipse class="w" cx="1226.5" cy="607" rx="26.5" ry="16.5" style="stroke-width:1.5"/>
<ellipse class="t" cx="1226.5" cy="604" rx="23" ry="11"/>
<ellipse class="r" cx="1227" cy="603.3" rx="13" ry="6.1"/>
<path class="t" d="M1208,624 Q1227,630 1246,624 M1210,627 Q1227,632 1244,627"/>
<polygon points="1171,815.4 1185,824.4 1232,798 1261,813.6 1214,841.6 1229.4,848 1171,848" fill="#fff" stroke="#000" stroke-width="1.5" stroke-linejoin="miter"/>
<polygon points="1214,841.6 1261,813.6 1262,824 1223,845.5" fill="#000"/>
<rect x="1170.5" y="848" width="59.5" height="10.4" fill="#000"/>
</g>

<!-- WARNING TRIANGLE -->
<g id="tri">
<path d="M1122.83,288.84 A8.50,8.50 0 0 1 1137.57,288.84 L1168.99,343.57 A8.50,8.50 0 0 1 1161.62,356.30 L1098.78,356.30 A8.50,8.50 0 0 1 1091.41,343.57 Z" fill="none" stroke="#000" stroke-width="2"/>
<path d="M1127.60,291.02 A3.00,3.00 0 0 1 1132.80,291.02 L1163.91,345.10 A3.00,3.00 0 0 1 1161.31,349.60 L1099.09,349.60 A3.00,3.00 0 0 1 1096.49,345.10 Z" fill="none" stroke="#000" stroke-width="1.8"/>
<path d="M1107.2,342.6 L1107.2,333.4 L1110.9,326 L1117.3,323.2 L1123.8,317.7 L1129.3,318.6 L1133.9,319.6 L1136.7,322.3 L1135.8,329.7 L1132.1,334.3 L1126.6,338.9 L1123.8,341.7 L1112.7,342.6 Z" fill="#fff" stroke="#000" stroke-width="2.6" stroke-linejoin="round"/>
<path d="M1108,331 L1116,328 M1108,336 L1116,333 M1108,339.5 L1114,338 M1117.5,326 Q1121,329 1124.5,337 M1127,324 L1127.5,334 M1131,321 L1133.5,328" stroke="#000" stroke-width="1.6" fill="none"/>
<path d="M1136.5,321 Q1143,320.5 1144.5,324.5 Q1145,329 1140.5,332.5 Q1137,336 1139.5,340 Q1142,341.5 1147,341" fill="none" stroke="#000" stroke-width="3.6" stroke-linecap="butt"/>
</g>

</svg>
</body></html>
